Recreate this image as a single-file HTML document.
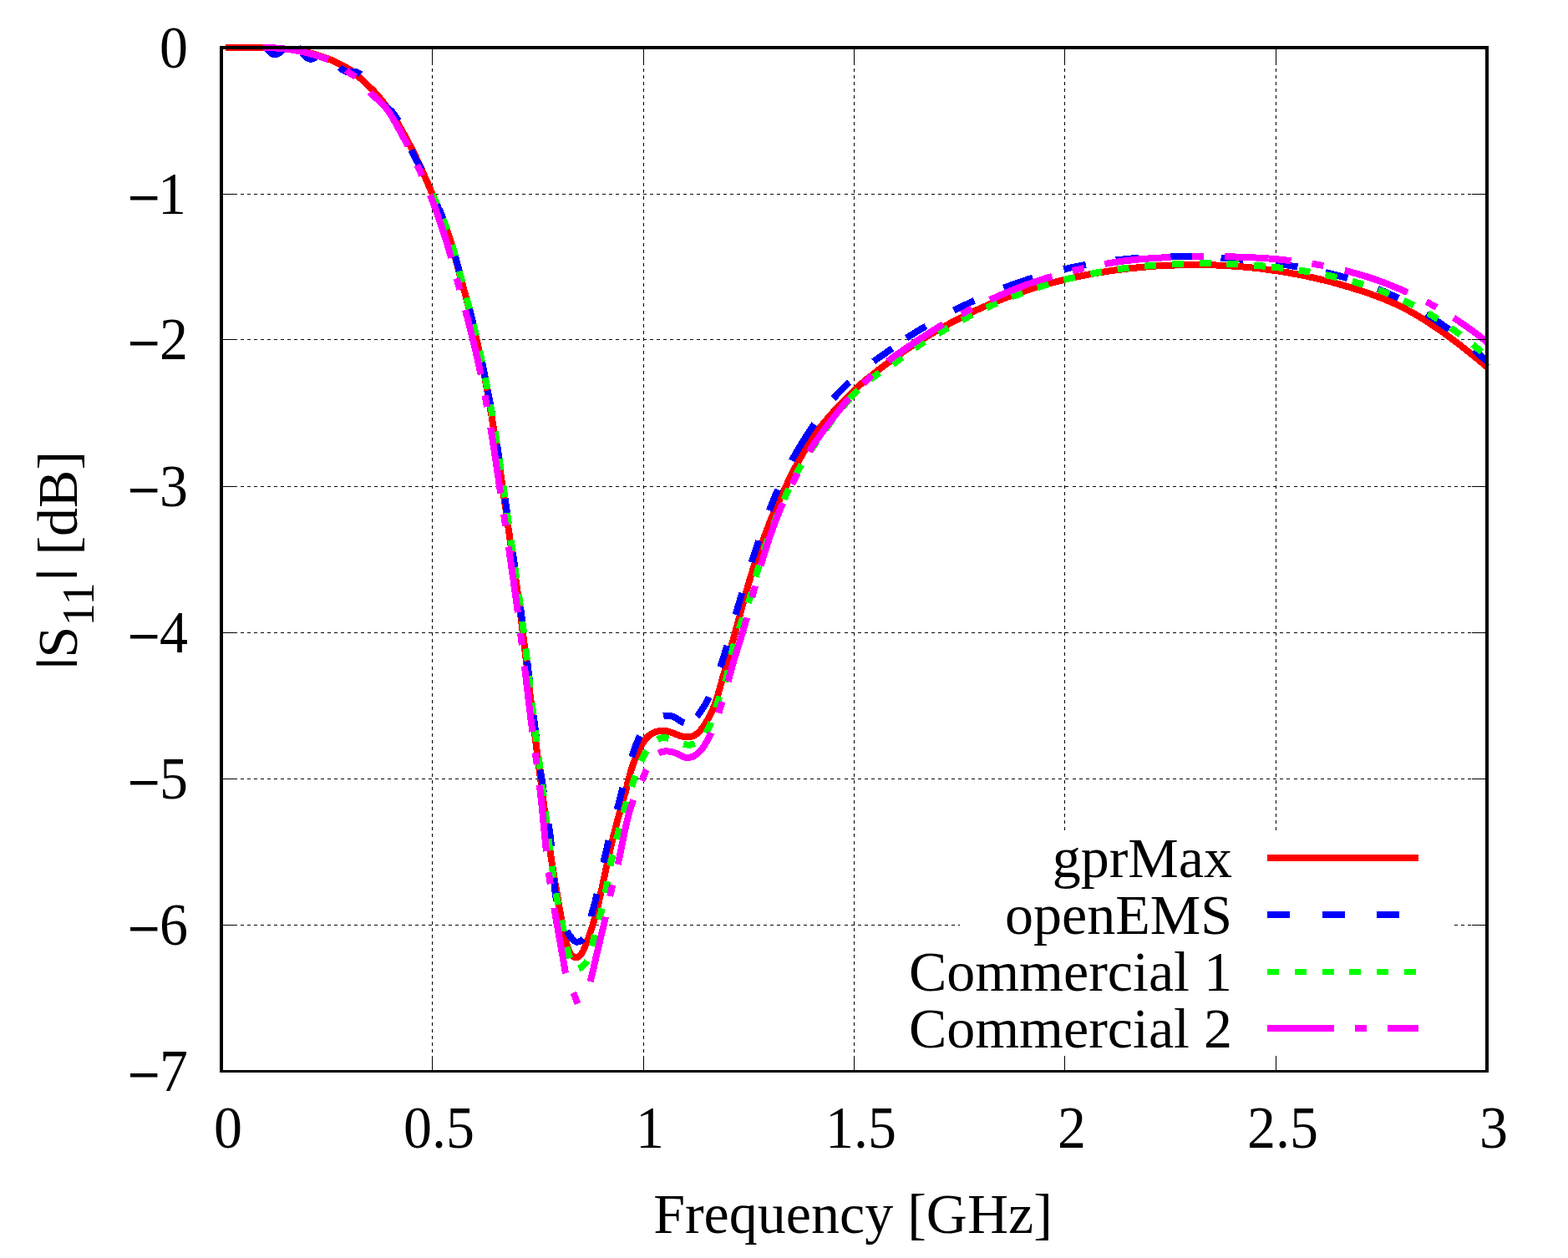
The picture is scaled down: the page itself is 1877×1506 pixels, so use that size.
<!DOCTYPE html>
<html lang="en"><head><meta charset="utf-8"><title>|S11| [dB] vs Frequency [GHz]</title>
<style>html,body{margin:0;padding:0;background:#fff}body{width:1877px;height:1506px;overflow:hidden}svg{display:block}text{font-family:"Liberation Serif","DejaVu Serif",serif;font-size:68px;fill:#000}.c{fill:none;stroke-width:8;stroke-linejoin:round;stroke-linecap:butt}.g{stroke:#000;stroke-width:1;fill:none}.t{stroke:#000;stroke-width:1;fill:none}</style></head><body>
<svg width="1877" height="1506" viewBox="0 0 1877 1506">
<rect x="0" y="0" width="1877" height="1506" fill="#fff"/>
<g shape-rendering="crispEdges">
<path class="g" stroke-dasharray="4 4.038" d="M517.5 1259.7V57.0"/>
<path class="g" stroke-dasharray="4 4.038" d="M770.5 1259.7V57.0"/>
<path class="g" stroke-dasharray="4 4.038" d="M1022.5 1259.7V57.0"/>
<path class="g" stroke-dasharray="4 4.038" d="M1274.5 1259.7V57.0"/>
<path class="g" stroke-dasharray="4 4.038" d="M1527.5 1259.7V57.0"/>
<path class="g" stroke-dasharray="4 4.030" d="M287.8 232.5H1780.0"/>
<path class="g" stroke-dasharray="4 4.030" d="M287.8 406.5H1780.0"/>
<path class="g" stroke-dasharray="4 4.030" d="M287.8 582.5H1780.0"/>
<path class="g" stroke-dasharray="4 4.030" d="M287.8 757.5H1780.0"/>
<path class="g" stroke-dasharray="4 4.030" d="M287.8 932.5H1780.0"/>
<path class="g" stroke-dasharray="4 4.030" d="M287.8 1107.5H1780.0"/>
</g>
<defs><clipPath id="cp"><rect x="259" y="53" width="1527" height="1233.5"/></clipPath></defs>
<g clip-path="url(#cp)" shape-rendering="crispEdges">
<path class="c" stroke="#f00" style="stroke-width:7" shape-rendering="auto" d="M270.0 57.0L272.0 57.0L274.0 57.0L276.0 57.0L278.0 57.0L280.0 57.0L282.0 57.0L284.0 57.0L286.0 57.0L288.0 57.0L290.0 57.0L292.0 57.0L294.0 57.0L296.0 57.0L298.0 57.0L300.0 57.0L302.0 57.0L304.0 57.0L306.0 57.1L308.0 57.1L310.0 57.1L312.0 57.2L314.0 57.2L316.0 57.3L318.0 57.3L320.0 57.4L322.0 57.5L324.0 57.5L326.0 57.6L328.0 57.7L330.0 57.8L332.0 57.9L334.0 58.0L336.0 58.1L338.0 58.2L340.0 58.4L342.0 58.6L344.0 58.8L345.9 59.0L347.9 59.2L349.9 59.4L351.9 59.7L353.9 60.0L355.9 60.3L357.8 60.6L359.8 61.0L361.8 61.3L363.7 61.7L365.7 62.2L367.6 62.6L369.6 63.1L371.5 63.6L373.5 64.1L375.4 64.6L377.3 65.2L379.2 65.7L381.1 66.3L383.0 66.9L384.9 67.6L386.8 68.2L388.7 68.9L390.6 69.6L392.4 70.3L394.3 71.1L396.2 71.8L398.0 72.6L399.8 73.4L401.6 74.3L403.5 75.1L405.3 76.0L407.0 76.9L408.8 77.8L410.6 78.7L412.4 79.7L414.1 80.7L415.9 81.7L417.6 82.7L419.3 83.8L420.9 84.9L422.5 86.1L424.1 87.3L425.7 88.6L427.2 89.9L428.7 91.2L430.1 92.6L431.6 93.9L433.0 95.3L434.5 96.7L435.9 98.1L437.4 99.5L438.8 100.8L440.3 102.2L441.8 103.5L443.2 104.9L444.7 106.3L446.1 107.7L447.5 109.1L448.9 110.6L450.2 112.1L451.5 113.6L452.8 115.1L454.1 116.6L455.4 118.2L456.6 119.8L457.9 121.3L459.1 122.9L460.3 124.5L461.5 126.1L462.7 127.7L463.9 129.3L465.1 131.0L466.2 132.6L467.4 134.2L468.5 135.9L469.6 137.5L470.7 139.2L471.8 140.9L472.9 142.6L474.0 144.2L475.0 145.9L476.1 147.6L477.1 149.3L478.2 151.1L479.2 152.8L480.2 154.5L481.2 156.2L482.2 158.0L483.1 159.7L484.1 161.5L485.1 163.2L486.0 165.0L487.0 166.8L487.9 168.5L488.8 170.3L489.8 172.1L490.7 173.8L491.6 175.6L492.5 177.4L493.4 179.2L494.3 181.0L495.2 182.8L496.1 184.6L497.0 186.3L497.9 188.1L498.7 189.9L499.6 191.8L500.5 193.6L501.3 195.4L502.2 197.2L503.0 199.0L503.8 200.8L504.7 202.6L505.5 204.5L506.3 206.3L507.1 208.1L507.9 209.9L508.7 211.8L509.5 213.6L510.3 215.4L511.1 217.3L511.9 219.1L512.7 220.9L513.5 222.8L514.3 224.6L515.1 226.4L515.9 228.3L516.7 230.1L517.5 232.0L518.3 233.8L519.1 235.6L519.8 237.5L520.6 239.3L521.4 241.2L522.1 243.0L522.9 244.9L523.7 246.7L524.4 248.6L525.2 250.4L525.9 252.3L526.7 254.1L527.4 256.0L528.2 257.8L528.9 259.7L529.7 261.5L530.4 263.4L531.1 265.3L531.8 267.1L532.6 269.0L533.3 270.9L534.0 272.7L534.7 274.6L535.4 276.5L536.1 278.4L536.7 280.3L537.4 282.1L538.0 284.0L538.6 285.9L539.2 287.9L539.8 289.8L540.4 291.7L541.0 293.6L541.5 295.5L542.1 297.4L542.6 299.4L543.1 301.3L543.6 303.2L544.1 305.2L544.7 307.1L545.2 309.0L545.7 311.0L546.2 312.9L546.7 314.8L547.2 316.8L547.7 318.7L548.2 320.6L548.8 322.6L549.3 324.5L549.8 326.4L550.3 328.4L550.9 330.3L551.4 332.2L551.9 334.2L552.5 336.1L553.0 338.0L553.5 339.9L554.0 341.9L554.6 343.8L555.1 345.7L555.6 347.7L556.2 349.6L556.7 351.5L557.2 353.4L557.7 355.4L558.2 357.3L558.8 359.2L559.3 361.2L559.8 363.1L560.3 365.0L560.8 367.0L561.3 368.9L561.8 370.8L562.3 372.8L562.8 374.7L563.3 376.7L563.8 378.6L564.3 380.5L564.7 382.5L565.2 384.4L565.7 386.4L566.2 388.3L566.7 390.2L567.1 392.2L567.6 394.1L568.1 396.1L568.5 398.0L569.0 400.0L569.5 401.9L569.9 403.9L570.4 405.8L570.8 407.8L571.3 409.7L571.7 411.7L572.2 413.6L572.6 415.6L573.1 417.5L573.5 419.5L573.9 421.4L574.4 423.4L574.8 425.3L575.2 427.3L575.7 429.2L576.1 431.2L576.5 433.1L576.9 435.1L577.3 437.1L577.7 439.0L578.1 441.0L578.5 442.9L578.9 444.9L579.3 446.8L579.7 448.8L580.1 450.8L580.5 452.7L580.9 454.7L581.2 456.7L581.6 458.6L582.0 460.6L582.4 462.6L582.7 464.5L583.1 466.5L583.4 468.5L583.8 470.4L584.1 472.4L584.5 474.4L584.8 476.3L585.2 478.3L585.5 480.3L585.8 482.2L586.2 484.2L586.5 486.2L586.8 488.2L587.2 490.1L587.5 492.1L587.8 494.1L588.2 496.1L588.5 498.0L588.8 500.0L589.1 502.0L589.4 504.0L589.8 505.9L590.1 507.9L590.4 509.9L590.7 511.9L591.0 513.8L591.4 515.8L591.7 517.8L592.0 519.8L592.3 521.7L592.6 523.7L592.9 525.7L593.2 527.7L593.5 529.6L593.9 531.6L594.2 533.6L594.5 535.6L594.8 537.5L595.1 539.5L595.4 541.5L595.7 543.5L596.0 545.4L596.3 547.4L596.6 549.4L596.9 551.4L597.2 553.4L597.5 555.3L597.8 557.3L598.1 559.3L598.4 561.3L598.7 563.2L599.0 565.2L599.3 567.2L599.6 569.2L599.9 571.2L600.2 573.1L600.5 575.1L600.7 577.1L601.0 579.1L601.3 581.0L601.6 583.0L601.9 585.0L602.2 587.0L602.5 589.0L602.7 590.9L603.0 592.9L603.3 594.9L603.6 596.9L603.9 598.9L604.2 600.8L604.4 602.8L604.7 604.8L605.0 606.8L605.3 608.8L605.6 610.7L605.8 612.7L606.1 614.7L606.4 616.7L606.7 618.7L606.9 620.6L607.2 622.6L607.5 624.6L607.8 626.6L608.1 628.6L608.3 630.5L608.6 632.5L608.9 634.5L609.2 636.5L609.5 638.5L609.8 640.4L610.1 642.4L610.3 644.4L610.6 646.4L610.9 648.4L611.2 650.3L611.5 652.3L611.8 654.3L612.1 656.3L612.4 658.3L612.6 660.2L612.9 662.2L613.2 664.2L613.5 666.2L613.8 668.2L614.1 670.1L614.4 672.1L614.7 674.1L614.9 676.1L615.2 678.1L615.5 680.0L615.8 682.0L616.1 684.0L616.4 686.0L616.6 688.0L616.9 689.9L617.2 691.9L617.5 693.9L617.7 695.9L618.0 697.9L618.3 699.8L618.6 701.8L618.8 703.8L619.1 705.8L619.4 707.8L619.7 709.7L619.9 711.7L620.2 713.7L620.5 715.7L620.7 717.7L621.0 719.7L621.3 721.6L621.5 723.6L621.8 725.6L622.1 727.6L622.3 729.6L622.6 731.6L622.8 733.5L623.1 735.5L623.4 737.5L623.6 739.5L623.9 741.5L624.1 743.5L624.4 745.4L624.6 747.4L624.9 749.4L625.1 751.4L625.4 753.4L625.6 755.4L625.9 757.3L626.1 759.3L626.4 761.3L626.6 763.3L626.9 765.3L627.1 767.3L627.3 769.3L627.6 771.2L627.8 773.2L628.1 775.2L628.3 777.2L628.5 779.2L628.8 781.2L629.0 783.2L629.2 785.1L629.5 787.1L629.7 789.1L629.9 791.1L630.2 793.1L630.4 795.1L630.6 797.1L630.9 799.0L631.1 801.0L631.3 803.0L631.6 805.0L631.8 807.0L632.0 809.0L632.3 811.0L632.5 813.0L632.7 814.9L632.9 816.9L633.2 818.9L633.4 820.9L633.6 822.9L633.9 824.9L634.1 826.9L634.3 828.8L634.5 830.8L634.8 832.8L635.0 834.8L635.2 836.8L635.5 838.8L635.7 840.8L635.9 842.8L636.1 844.7L636.4 846.7L636.6 848.7L636.8 850.7L637.1 852.7L637.3 854.7L637.5 856.7L637.8 858.6L638.0 860.6L638.2 862.6L638.5 864.6L638.7 866.6L639.0 868.6L639.2 870.6L639.4 872.5L639.7 874.5L639.9 876.5L640.2 878.5L640.4 880.5L640.6 882.5L640.9 884.5L641.1 886.4L641.4 888.4L641.6 890.4L641.9 892.4L642.1 894.4L642.4 896.4L642.6 898.4L642.9 900.3L643.1 902.3L643.4 904.3L643.6 906.3L643.9 908.3L644.2 910.3L644.4 912.2L644.7 914.2L644.9 916.2L645.2 918.2L645.5 920.2L645.7 922.2L646.0 924.1L646.2 926.1L646.5 928.1L646.7 930.1L647.0 932.1L647.3 934.1L647.5 936.0L647.8 938.0L648.0 940.0L648.3 942.0L648.5 944.0L648.8 946.0L649.1 947.9L649.3 949.9L649.6 951.9L649.8 953.9L650.1 955.9L650.3 957.9L650.6 959.8L650.8 961.8L651.1 963.8L651.4 965.8L651.6 967.8L651.9 969.8L652.1 971.8L652.4 973.7L652.6 975.7L652.9 977.7L653.2 979.7L653.4 981.7L653.7 983.7L654.0 985.6L654.2 987.6L654.5 989.6L654.8 991.6L655.0 993.6L655.3 995.5L655.6 997.5L655.8 999.5L656.1 1001.5L656.4 1003.5L656.7 1005.5L656.9 1007.4L657.2 1009.4L657.5 1011.4L657.8 1013.4L658.1 1015.3L658.3 1017.3L658.6 1019.3L658.9 1021.3L659.2 1023.3L659.5 1025.2L659.8 1027.2L660.1 1029.2L660.4 1031.2L660.7 1033.1L661.0 1035.1L661.3 1037.1L661.6 1039.1L661.9 1041.0L662.2 1043.0L662.6 1045.0L662.9 1047.0L663.2 1048.9L663.5 1050.9L663.8 1052.9L664.2 1054.8L664.5 1056.8L664.8 1058.8L665.1 1060.8L665.5 1062.7L665.8 1064.7L666.1 1066.7L666.5 1068.6L666.8 1070.6L667.2 1072.6L667.5 1074.5L667.8 1076.5L668.2 1078.5L668.5 1080.5L668.9 1082.4L669.2 1084.4L669.6 1086.4L669.9 1088.3L670.3 1090.3L670.6 1092.3L671.0 1094.2L671.4 1096.2L671.7 1098.2L672.1 1100.2L672.4 1102.1L672.8 1104.1L673.2 1106.1L673.5 1108.1L673.9 1110.0L674.3 1112.0L674.7 1114.0L675.1 1115.9L675.5 1117.9L675.9 1119.9L676.3 1121.8L676.8 1123.8L677.3 1125.7L677.8 1127.6L678.3 1129.6L678.9 1131.5L679.5 1133.4L680.1 1135.3L680.8 1137.1L681.6 1139.0L682.5 1140.7L683.6 1142.4L685.0 1144.0L686.6 1145.4L688.5 1146.3L690.3 1146.3L692.2 1145.5L693.8 1144.2L695.3 1142.6L696.5 1141.0L697.6 1139.3L698.5 1137.5L699.3 1135.7L700.0 1133.9L700.8 1132.0L701.5 1130.2L702.3 1128.3L703.0 1126.5L703.7 1124.6L704.4 1122.7L705.0 1120.8L705.7 1118.9L706.4 1117.0L707.0 1115.1L707.6 1113.2L708.2 1111.3L708.8 1109.4L709.4 1107.5L710.0 1105.6L710.6 1103.7L711.1 1101.7L711.7 1099.8L712.2 1097.9L712.7 1096.0L713.3 1094.0L713.8 1092.1L714.3 1090.2L714.8 1088.2L715.2 1086.3L715.7 1084.3L716.2 1082.4L716.7 1080.4L717.1 1078.5L717.6 1076.5L718.0 1074.6L718.4 1072.6L718.9 1070.7L719.3 1068.7L719.7 1066.8L720.2 1064.8L720.6 1062.9L721.0 1060.9L721.4 1059.0L721.8 1057.0L722.2 1055.0L722.7 1053.1L723.1 1051.1L723.5 1049.2L723.9 1047.2L724.3 1045.2L724.7 1043.3L725.1 1041.3L725.5 1039.4L726.0 1037.4L726.4 1035.5L726.8 1033.5L727.2 1031.5L727.6 1029.6L728.1 1027.6L728.5 1025.7L728.9 1023.7L729.4 1021.8L729.8 1019.8L730.3 1017.9L730.7 1015.9L731.1 1014.0L731.6 1012.0L732.1 1010.1L732.5 1008.1L733.0 1006.2L733.5 1004.2L733.9 1002.3L734.4 1000.4L734.9 998.4L735.4 996.5L735.9 994.5L736.4 992.6L736.9 990.7L737.4 988.7L737.9 986.8L738.4 984.9L739.0 982.9L739.5 981.0L740.0 979.1L740.6 977.2L741.1 975.2L741.7 973.3L742.2 971.4L742.8 969.5L743.4 967.6L743.9 965.6L744.5 963.7L745.0 961.8L745.6 959.9L746.1 957.9L746.7 956.0L747.2 954.1L747.7 952.2L748.2 950.2L748.7 948.3L749.2 946.4L749.7 944.4L750.2 942.5L750.6 940.5L751.1 938.6L751.6 936.6L752.1 934.7L752.6 932.8L753.1 930.8L753.6 928.9L754.1 927.0L754.7 925.0L755.2 923.1L755.8 921.2L756.4 919.3L757.0 917.4L757.7 915.5L758.3 913.6L759.0 911.7L759.7 909.9L760.5 908.0L761.2 906.1L762.0 904.3L762.8 902.5L763.6 900.6L764.5 898.8L765.3 897.0L766.2 895.2L767.1 893.5L768.1 891.7L769.1 890.0L770.2 888.3L771.4 886.7L772.6 885.1L773.9 883.5L775.3 882.1L776.8 880.8L778.4 879.5L780.1 878.4L781.8 877.5L783.7 876.7L785.6 876.0L787.5 875.4L789.5 875.1L791.5 874.8L793.5 874.8L795.5 874.9L797.5 875.1L799.4 875.5L801.4 876.1L803.3 876.7L805.2 877.4L807.0 878.1L808.9 878.9L810.7 879.6L812.6 880.4L814.5 881.1L816.4 881.6L818.4 882.1L820.4 882.4L822.4 882.5L824.4 882.4L826.4 882.0L828.3 881.5L830.2 880.8L832.0 879.8L833.7 878.7L835.2 877.5L836.7 876.1L838.1 874.7L839.4 873.2L840.7 871.6L841.9 870.0L843.0 868.3L844.1 866.6L845.1 864.9L846.1 863.2L847.1 861.4L848.0 859.7L849.0 857.9L849.9 856.1L850.8 854.3L851.6 852.5L852.5 850.7L853.3 848.9L854.0 847.0L854.8 845.2L855.5 843.3L856.2 841.4L856.8 839.5L857.5 837.6L858.1 835.7L858.7 833.8L859.3 831.9L859.9 830.0L860.4 828.1L861.0 826.2L861.5 824.2L862.1 822.3L862.6 820.4L863.2 818.5L863.7 816.5L864.2 814.6L864.8 812.7L865.3 810.8L865.9 808.8L866.4 806.9L867.0 805.0L867.5 803.1L868.1 801.1L868.6 799.2L869.2 797.3L869.7 795.4L870.2 793.4L870.8 791.5L871.3 789.6L871.8 787.6L872.3 785.7L872.8 783.8L873.3 781.8L873.8 779.9L874.3 778.0L874.8 776.0L875.4 774.1L875.9 772.2L876.4 770.2L877.0 768.3L877.5 766.4L878.0 764.5L878.6 762.5L879.1 760.6L879.6 758.7L880.2 756.8L880.7 754.8L881.2 752.9L881.7 751.0L882.3 749.0L882.8 747.1L883.3 745.2L883.8 743.3L884.4 741.3L884.9 739.4L885.4 737.5L885.9 735.5L886.4 733.6L887.0 731.7L887.5 729.7L888.0 727.8L888.5 725.9L889.0 723.9L889.6 722.0L890.1 720.1L890.6 718.2L891.1 716.2L891.7 714.3L892.2 712.4L892.7 710.4L893.3 708.5L893.8 706.6L894.4 704.7L894.9 702.7L895.5 700.8L896.0 698.9L896.6 697.0L897.2 695.1L897.8 693.2L898.3 691.2L898.9 689.3L899.5 687.4L900.1 685.5L900.7 683.6L901.3 681.7L901.9 679.8L902.6 677.9L903.2 676.0L903.8 674.1L904.4 672.2L905.1 670.3L905.7 668.4L906.3 666.5L907.0 664.6L907.6 662.7L908.3 660.8L909.0 658.9L909.6 657.0L910.3 655.2L911.0 653.3L911.6 651.4L912.3 649.5L913.0 647.6L913.7 645.8L914.4 643.9L915.1 642.0L915.8 640.1L916.5 638.3L917.2 636.4L917.9 634.5L918.6 632.6L919.3 630.8L920.0 628.9L920.8 627.1L921.5 625.2L922.3 623.3L923.0 621.5L923.8 619.6L924.5 617.8L925.3 615.9L926.1 614.1L926.9 612.3L927.7 610.4L928.5 608.6L929.3 606.8L930.1 604.9L930.9 603.1L931.8 601.3L932.6 599.5L933.4 597.7L934.3 595.9L935.1 594.1L936.0 592.2L936.8 590.4L937.7 588.6L938.6 586.8L939.4 585.0L940.3 583.2L941.1 581.4L942.0 579.6L942.8 577.8L943.7 576.0L944.6 574.2L945.4 572.4L946.3 570.6L947.2 568.8L948.1 567.0L949.0 565.2L949.9 563.4L950.8 561.6L951.7 559.9L952.7 558.1L953.6 556.3L954.6 554.6L955.6 552.9L956.6 551.1L957.5 549.4L958.5 547.6L959.5 545.9L960.5 544.2L961.5 542.4L962.5 540.7L963.4 538.9L964.4 537.1L965.4 535.4L966.3 533.6L967.3 531.9L968.3 530.2L969.4 528.5L970.4 526.8L971.5 525.1L972.7 523.5L973.8 521.8L975.0 520.2L976.2 518.6L977.4 517.0L978.7 515.5L979.9 513.9L981.1 512.3L982.4 510.8L983.7 509.2L984.9 507.7L986.2 506.1L987.5 504.6L988.8 503.1L990.1 501.5L991.4 500.0L992.7 498.5L994.0 497.0L995.3 495.5L996.7 494.0L998.0 492.5L999.4 491.1L1000.8 489.6L1002.1 488.2L1003.5 486.8L1004.9 485.3L1006.4 483.9L1007.8 482.5L1009.2 481.1L1010.6 479.7L1012.0 478.2L1013.4 476.8L1014.8 475.4L1016.2 473.9L1017.6 472.5L1018.9 471.0L1020.3 469.6L1021.7 468.2L1023.1 466.7L1024.6 465.3L1026.0 464.0L1027.5 462.6L1029.0 461.3L1030.5 459.9L1032.0 458.6L1033.5 457.3L1035.0 456.1L1036.6 454.8L1038.1 453.5L1039.7 452.3L1041.3 451.0L1042.8 449.8L1044.4 448.5L1046.0 447.3L1047.5 446.1L1049.1 444.8L1050.7 443.6L1052.3 442.4L1053.9 441.2L1055.5 440.0L1057.0 438.7L1058.6 437.5L1060.2 436.3L1061.8 435.1L1063.5 434.0L1065.1 432.8L1066.7 431.6L1068.3 430.4L1069.9 429.2L1071.5 428.1L1073.2 426.9L1074.8 425.7L1076.4 424.6L1078.1 423.4L1079.7 422.3L1081.3 421.1L1083.0 420.0L1084.6 418.9L1086.3 417.7L1087.9 416.6L1089.6 415.5L1091.3 414.4L1092.9 413.3L1094.6 412.2L1096.3 411.1L1098.0 410.0L1099.6 408.9L1101.3 407.9L1103.0 406.8L1104.7 405.7L1106.4 404.7L1108.1 403.7L1109.8 402.6L1111.6 401.6L1113.3 400.6L1115.0 399.5L1116.7 398.5L1118.5 397.5L1120.2 396.5L1121.9 395.5L1123.7 394.6L1125.4 393.6L1127.2 392.6L1128.9 391.6L1130.6 390.6L1132.4 389.7L1134.2 388.7L1135.9 387.8L1137.7 386.8L1139.4 385.9L1141.2 384.9L1143.0 384.0L1144.8 383.1L1146.5 382.2L1148.3 381.3L1150.1 380.4L1151.9 379.5L1153.7 378.6L1155.5 377.7L1157.3 376.8L1159.1 375.9L1160.9 375.1L1162.7 374.2L1164.5 373.3L1166.3 372.5L1168.1 371.6L1169.9 370.8L1171.7 370.0L1173.6 369.1L1175.4 368.3L1177.2 367.5L1179.0 366.7L1180.9 365.9L1182.7 365.1L1184.5 364.3L1186.4 363.5L1188.2 362.8L1190.1 362.0L1191.9 361.2L1193.8 360.5L1195.6 359.7L1197.5 359.0L1199.3 358.3L1201.2 357.5L1203.1 356.8L1204.9 356.1L1206.8 355.4L1208.7 354.7L1210.6 354.0L1212.4 353.3L1214.3 352.6L1216.2 351.9L1218.1 351.3L1220.0 350.6L1221.9 350.0L1223.8 349.3L1225.7 348.7L1227.6 348.0L1229.5 347.4L1231.4 346.8L1233.3 346.2L1235.2 345.6L1237.1 345.0L1239.0 344.4L1240.9 343.8L1242.8 343.2L1244.7 342.6L1246.6 342.1L1248.6 341.5L1250.5 341.0L1252.4 340.4L1254.3 339.9L1256.3 339.4L1258.2 338.8L1260.1 338.3L1262.1 337.8L1264.0 337.3L1265.9 336.8L1267.9 336.3L1269.8 335.9L1271.8 335.4L1273.7 334.9L1275.7 334.4L1277.6 334.0L1279.6 333.5L1281.5 333.1L1283.5 332.7L1285.4 332.2L1287.4 331.8L1289.3 331.4L1291.3 331.0L1293.2 330.6L1295.2 330.2L1297.2 329.8L1299.1 329.4L1301.1 329.0L1303.0 328.6L1305.0 328.3L1307.0 327.9L1308.9 327.5L1310.9 327.2L1312.9 326.8L1314.9 326.5L1316.8 326.2L1318.8 325.9L1320.8 325.6L1322.8 325.2L1324.7 324.9L1326.7 324.6L1328.7 324.4L1330.7 324.1L1332.7 323.8L1334.6 323.5L1336.6 323.3L1338.6 323.0L1340.6 322.7L1342.6 322.5L1344.6 322.2L1346.5 322.0L1348.5 321.8L1350.5 321.5L1352.5 321.3L1354.5 321.1L1356.5 320.9L1358.5 320.7L1360.5 320.5L1362.4 320.3L1364.4 320.1L1366.4 319.9L1368.4 319.7L1370.4 319.6L1372.4 319.4L1374.4 319.2L1376.4 319.1L1378.4 318.9L1380.4 318.8L1382.4 318.7L1384.4 318.5L1386.4 318.4L1388.4 318.3L1390.4 318.2L1392.4 318.1L1394.4 318.0L1396.4 317.9L1398.4 317.8L1400.4 317.7L1402.4 317.6L1404.4 317.5L1406.4 317.5L1408.4 317.4L1410.3 317.4L1412.3 317.3L1414.3 317.3L1416.3 317.2L1418.3 317.2L1420.3 317.2L1422.3 317.1L1424.3 317.1L1426.3 317.1L1428.3 317.1L1430.3 317.1L1432.3 317.1L1434.3 317.1L1436.3 317.1L1438.3 317.1L1440.3 317.1L1442.3 317.1L1444.3 317.2L1446.3 317.2L1448.3 317.3L1450.3 317.3L1452.3 317.4L1454.3 317.4L1456.3 317.5L1458.3 317.6L1460.3 317.7L1462.3 317.8L1464.3 317.9L1466.3 318.0L1468.3 318.1L1470.3 318.2L1472.3 318.3L1474.3 318.5L1476.3 318.6L1478.3 318.7L1480.3 318.9L1482.3 319.0L1484.3 319.2L1486.3 319.3L1488.3 319.5L1490.3 319.7L1492.3 319.8L1494.3 320.0L1496.3 320.2L1498.2 320.4L1500.2 320.6L1502.2 320.8L1504.2 321.1L1506.2 321.3L1508.2 321.5L1510.2 321.8L1512.1 322.0L1514.1 322.3L1516.1 322.6L1518.1 322.8L1520.1 323.1L1522.1 323.4L1524.0 323.7L1526.0 323.9L1528.0 324.2L1530.0 324.5L1531.9 324.8L1533.9 325.2L1535.9 325.5L1537.9 325.8L1539.8 326.1L1541.8 326.4L1543.8 326.8L1545.8 327.1L1547.7 327.5L1549.7 327.8L1551.7 328.2L1553.6 328.6L1555.6 329.0L1557.6 329.4L1559.5 329.7L1561.5 330.1L1563.4 330.6L1565.4 331.0L1567.3 331.4L1569.3 331.8L1571.3 332.2L1573.2 332.7L1575.2 333.1L1577.1 333.6L1579.0 334.0L1581.0 334.5L1582.9 335.0L1584.9 335.5L1586.8 335.9L1588.8 336.4L1590.7 336.9L1592.6 337.4L1594.6 337.9L1596.5 338.5L1598.4 339.0L1600.4 339.5L1602.3 340.0L1604.2 340.6L1606.1 341.1L1608.1 341.7L1610.0 342.2L1611.9 342.8L1613.8 343.4L1615.7 343.9L1617.7 344.5L1619.6 345.1L1621.5 345.7L1623.4 346.3L1625.3 346.9L1627.2 347.5L1629.1 348.1L1631.0 348.7L1632.9 349.4L1634.8 350.0L1636.7 350.6L1638.6 351.3L1640.5 351.9L1642.4 352.6L1644.2 353.3L1646.1 354.0L1648.0 354.7L1649.9 355.4L1651.7 356.1L1653.6 356.8L1655.5 357.5L1657.3 358.3L1659.2 359.0L1661.0 359.8L1662.9 360.6L1664.7 361.4L1666.5 362.2L1668.4 363.0L1670.2 363.8L1672.0 364.7L1673.8 365.5L1675.6 366.4L1677.4 367.3L1679.2 368.2L1681.0 369.1L1682.7 370.0L1684.5 371.0L1686.3 371.9L1688.0 372.9L1689.8 373.8L1691.5 374.8L1693.3 375.8L1695.0 376.8L1696.7 377.8L1698.4 378.9L1700.1 379.9L1701.8 380.9L1703.6 382.0L1705.3 383.0L1706.9 384.1L1708.6 385.2L1710.3 386.3L1712.0 387.4L1713.7 388.4L1715.3 389.6L1717.0 390.7L1718.6 391.8L1720.3 392.9L1721.9 394.1L1723.6 395.2L1725.2 396.4L1726.8 397.5L1728.5 398.7L1730.1 399.8L1731.7 401.0L1733.3 402.2L1734.9 403.4L1736.5 404.6L1738.1 405.8L1739.7 407.0L1741.3 408.2L1742.9 409.4L1744.5 410.6L1746.1 411.9L1747.7 413.1L1749.2 414.3L1750.8 415.5L1752.4 416.8L1754.0 418.0L1755.5 419.3L1757.1 420.5L1758.7 421.8L1760.2 423.0L1761.8 424.3L1763.3 425.5L1764.9 426.8L1766.4 428.0L1768.0 429.3L1769.5 430.6L1771.1 431.9L1772.6 433.1L1774.2 434.4L1775.7 435.7L1777.2 437.0L1778.8 438.2L1780.0 439.3"/>
<path class="c" stroke="#f00" d="M270.0 57.0L272.0 57.0L274.0 57.0L276.0 57.0L278.0 57.0L280.0 57.0L282.0 57.0L284.0 57.0L286.0 57.0L288.0 57.0L290.0 57.0L292.0 57.0L294.0 57.0L296.0 57.0L298.0 57.0L300.0 57.0L302.0 57.0L304.0 57.0L306.0 57.1L308.0 57.1L310.0 57.1L312.0 57.2L314.0 57.2L316.0 57.3L318.0 57.3L320.0 57.4L322.0 57.5L324.0 57.5L326.0 57.6L328.0 57.7L330.0 57.8L332.0 57.9L334.0 58.0L336.0 58.1L338.0 58.2L340.0 58.4L342.0 58.6L344.0 58.8L345.9 59.0L347.9 59.2L349.9 59.4L351.9 59.7L353.9 60.0L355.9 60.3L357.8 60.6L359.8 61.0L361.8 61.3L363.7 61.7L365.7 62.2L367.6 62.6L369.6 63.1L371.5 63.6L373.5 64.1L375.4 64.6L377.3 65.2L379.2 65.7L381.1 66.3L383.0 66.9L384.9 67.6L386.8 68.2L388.7 68.9L390.6 69.6L392.4 70.3L394.3 71.1L396.2 71.8L398.0 72.6L399.8 73.4L401.6 74.3L403.5 75.1L405.3 76.0L407.0 76.9L408.8 77.8L410.6 78.7L412.4 79.7L414.1 80.7L415.9 81.7L417.6 82.7L419.3 83.8L420.9 84.9L422.5 86.1L424.1 87.3L425.7 88.6L427.2 89.9L428.7 91.2L430.1 92.6L431.6 93.9L433.0 95.3L434.5 96.7L435.9 98.1L437.4 99.5L438.8 100.8L440.3 102.2L441.8 103.5L443.2 104.9L444.7 106.3L446.1 107.7L447.5 109.1L448.9 110.6L450.2 112.1L451.5 113.6L452.8 115.1L454.1 116.6L455.4 118.2L456.6 119.8L457.9 121.3L459.1 122.9L460.3 124.5L461.5 126.1L462.7 127.7L463.9 129.3L465.1 131.0L466.2 132.6L467.4 134.2L468.5 135.9L469.6 137.5L470.7 139.2L471.8 140.9L472.9 142.6L474.0 144.2L475.0 145.9L476.1 147.6L477.1 149.3L478.2 151.1L479.2 152.8L480.2 154.5L481.2 156.2L482.2 158.0L483.1 159.7L484.1 161.5L485.1 163.2L486.0 165.0L487.0 166.8L487.9 168.5L488.8 170.3L489.8 172.1L490.7 173.8L491.6 175.6L492.5 177.4L493.4 179.2L494.3 181.0L495.2 182.8L496.1 184.6L497.0 186.3L497.9 188.1L498.7 189.9L499.6 191.8L500.5 193.6L501.3 195.4L502.2 197.2L503.0 199.0L503.8 200.8L504.7 202.6L505.5 204.5L506.3 206.3L507.1 208.1L507.9 209.9L508.7 211.8L509.5 213.6L510.3 215.4L511.1 217.3L511.9 219.1L512.7 220.9L513.5 222.8L514.3 224.6L515.1 226.4L515.9 228.3L516.7 230.1L517.5 232.0L518.3 233.8L519.1 235.6L519.8 237.5L520.6 239.3L521.4 241.2L522.1 243.0L522.9 244.9L523.7 246.7L524.4 248.6L525.2 250.4L525.9 252.3L526.7 254.1L527.4 256.0L528.2 257.8L528.9 259.7L529.7 261.5L530.4 263.4L531.1 265.3L531.8 267.1L532.6 269.0L533.3 270.9L534.0 272.7L534.7 274.6L535.4 276.5L536.1 278.4L536.7 280.3L537.4 282.1L538.0 284.0L538.6 285.9L539.2 287.9L539.8 289.8L540.4 291.7L541.0 293.6L541.5 295.5L542.1 297.4L542.6 299.4L543.1 301.3L543.6 303.2L544.1 305.2L544.7 307.1L545.2 309.0L545.7 311.0L546.2 312.9L546.7 314.8L547.2 316.8L547.7 318.7L548.2 320.6L548.8 322.6L549.3 324.5L549.8 326.4L550.3 328.4L550.9 330.3L551.4 332.2L551.9 334.2L552.5 336.1L553.0 338.0L553.5 339.9L554.0 341.9L554.6 343.8L555.1 345.7L555.6 347.7L556.2 349.6L556.7 351.5L557.2 353.4L557.7 355.4L558.2 357.3L558.8 359.2L559.3 361.2L559.8 363.1L560.3 365.0L560.8 367.0L561.3 368.9L561.8 370.8L562.3 372.8L562.8 374.7L563.3 376.7L563.8 378.6L564.3 380.5L564.7 382.5L565.2 384.4L565.7 386.4L566.2 388.3L566.7 390.2L567.1 392.2L567.6 394.1L568.1 396.1L568.5 398.0L569.0 400.0L569.5 401.9L569.9 403.9L570.4 405.8L570.8 407.8L571.3 409.7L571.7 411.7L572.2 413.6L572.6 415.6L573.1 417.5L573.5 419.5L573.9 421.4L574.4 423.4L574.8 425.3L575.2 427.3L575.7 429.2L576.1 431.2L576.5 433.1L576.9 435.1L577.3 437.1L577.7 439.0L578.1 441.0L578.5 442.9L578.9 444.9L579.3 446.8L579.7 448.8L580.1 450.8L580.5 452.7L580.9 454.7L581.2 456.7L581.6 458.6L582.0 460.6L582.4 462.6L582.7 464.5L583.1 466.5L583.4 468.5L583.8 470.4L584.1 472.4L584.5 474.4L584.8 476.3L585.2 478.3L585.5 480.3L585.8 482.2L586.2 484.2L586.5 486.2L586.8 488.2L587.2 490.1L587.5 492.1L587.8 494.1L588.2 496.1L588.5 498.0L588.8 500.0L589.1 502.0L589.4 504.0L589.8 505.9L590.1 507.9L590.4 509.9L590.7 511.9L591.0 513.8L591.4 515.8L591.7 517.8L592.0 519.8L592.3 521.7L592.6 523.7L592.9 525.7L593.2 527.7L593.5 529.6L593.9 531.6L594.2 533.6L594.5 535.6L594.8 537.5L595.1 539.5L595.4 541.5L595.7 543.5L596.0 545.4L596.3 547.4L596.6 549.4L596.9 551.4L597.2 553.4L597.5 555.3L597.8 557.3L598.1 559.3L598.4 561.3L598.7 563.2L599.0 565.2L599.3 567.2L599.6 569.2L599.9 571.2L600.2 573.1L600.5 575.1L600.7 577.1L601.0 579.1L601.3 581.0L601.6 583.0L601.9 585.0L602.2 587.0L602.5 589.0L602.7 590.9L603.0 592.9L603.3 594.9L603.6 596.9L603.9 598.9L604.2 600.8L604.4 602.8L604.7 604.8L605.0 606.8L605.3 608.8L605.6 610.7L605.8 612.7L606.1 614.7L606.4 616.7L606.7 618.7L606.9 620.6L607.2 622.6L607.5 624.6L607.8 626.6L608.1 628.6L608.3 630.5L608.6 632.5L608.9 634.5L609.2 636.5L609.5 638.5L609.8 640.4L610.1 642.4L610.3 644.4L610.6 646.4L610.9 648.4L611.2 650.3L611.5 652.3L611.8 654.3L612.1 656.3L612.4 658.3L612.6 660.2L612.9 662.2L613.2 664.2L613.5 666.2L613.8 668.2L614.1 670.1L614.4 672.1L614.7 674.1L614.9 676.1L615.2 678.1L615.5 680.0L615.8 682.0L616.1 684.0L616.4 686.0L616.6 688.0L616.9 689.9L617.2 691.9L617.5 693.9L617.7 695.9L618.0 697.9L618.3 699.8L618.6 701.8L618.8 703.8L619.1 705.8L619.4 707.8L619.7 709.7L619.9 711.7L620.2 713.7L620.5 715.7L620.7 717.7L621.0 719.7L621.3 721.6L621.5 723.6L621.8 725.6L622.1 727.6L622.3 729.6L622.6 731.6L622.8 733.5L623.1 735.5L623.4 737.5L623.6 739.5L623.9 741.5L624.1 743.5L624.4 745.4L624.6 747.4L624.9 749.4L625.1 751.4L625.4 753.4L625.6 755.4L625.9 757.3L626.1 759.3L626.4 761.3L626.6 763.3L626.9 765.3L627.1 767.3L627.3 769.3L627.6 771.2L627.8 773.2L628.1 775.2L628.3 777.2L628.5 779.2L628.8 781.2L629.0 783.2L629.2 785.1L629.5 787.1L629.7 789.1L629.9 791.1L630.2 793.1L630.4 795.1L630.6 797.1L630.9 799.0L631.1 801.0L631.3 803.0L631.6 805.0L631.8 807.0L632.0 809.0L632.3 811.0L632.5 813.0L632.7 814.9L632.9 816.9L633.2 818.9L633.4 820.9L633.6 822.9L633.9 824.9L634.1 826.9L634.3 828.8L634.5 830.8L634.8 832.8L635.0 834.8L635.2 836.8L635.5 838.8L635.7 840.8L635.9 842.8L636.1 844.7L636.4 846.7L636.6 848.7L636.8 850.7L637.1 852.7L637.3 854.7L637.5 856.7L637.8 858.6L638.0 860.6L638.2 862.6L638.5 864.6L638.7 866.6L639.0 868.6L639.2 870.6L639.4 872.5L639.7 874.5L639.9 876.5L640.2 878.5L640.4 880.5L640.6 882.5L640.9 884.5L641.1 886.4L641.4 888.4L641.6 890.4L641.9 892.4L642.1 894.4L642.4 896.4L642.6 898.4L642.9 900.3L643.1 902.3L643.4 904.3L643.6 906.3L643.9 908.3L644.2 910.3L644.4 912.2L644.7 914.2L644.9 916.2L645.2 918.2L645.5 920.2L645.7 922.2L646.0 924.1L646.2 926.1L646.5 928.1L646.7 930.1L647.0 932.1L647.3 934.1L647.5 936.0L647.8 938.0L648.0 940.0L648.3 942.0L648.5 944.0L648.8 946.0L649.1 947.9L649.3 949.9L649.6 951.9L649.8 953.9L650.1 955.9L650.3 957.9L650.6 959.8L650.8 961.8L651.1 963.8L651.4 965.8L651.6 967.8L651.9 969.8L652.1 971.8L652.4 973.7L652.6 975.7L652.9 977.7L653.2 979.7L653.4 981.7L653.7 983.7L654.0 985.6L654.2 987.6L654.5 989.6L654.8 991.6L655.0 993.6L655.3 995.5L655.6 997.5L655.8 999.5L656.1 1001.5L656.4 1003.5L656.7 1005.5L656.9 1007.4L657.2 1009.4L657.5 1011.4L657.8 1013.4L658.1 1015.3L658.3 1017.3L658.6 1019.3L658.9 1021.3L659.2 1023.3L659.5 1025.2L659.8 1027.2L660.1 1029.2L660.4 1031.2L660.7 1033.1L661.0 1035.1L661.3 1037.1L661.6 1039.1L661.9 1041.0L662.2 1043.0L662.6 1045.0L662.9 1047.0L663.2 1048.9L663.5 1050.9L663.8 1052.9L664.2 1054.8L664.5 1056.8L664.8 1058.8L665.1 1060.8L665.5 1062.7L665.8 1064.7L666.1 1066.7L666.5 1068.6L666.8 1070.6L667.2 1072.6L667.5 1074.5L667.8 1076.5L668.2 1078.5L668.5 1080.5L668.9 1082.4L669.2 1084.4L669.6 1086.4L669.9 1088.3L670.3 1090.3L670.6 1092.3L671.0 1094.2L671.4 1096.2L671.7 1098.2L672.1 1100.2L672.4 1102.1L672.8 1104.1L673.2 1106.1L673.5 1108.1L673.9 1110.0L674.3 1112.0L674.7 1114.0L675.1 1115.9L675.5 1117.9L675.9 1119.9L676.3 1121.8L676.8 1123.8L677.3 1125.7L677.8 1127.6L678.3 1129.6L678.9 1131.5L679.5 1133.4L680.1 1135.3L680.8 1137.1L681.6 1139.0L682.5 1140.7L683.6 1142.4L685.0 1144.0L686.6 1145.4L688.5 1146.3L690.3 1146.3L692.2 1145.5L693.8 1144.2L695.3 1142.6L696.5 1141.0L697.6 1139.3L698.5 1137.5L699.3 1135.7L700.0 1133.9L700.8 1132.0L701.5 1130.2L702.3 1128.3L703.0 1126.5L703.7 1124.6L704.4 1122.7L705.0 1120.8L705.7 1118.9L706.4 1117.0L707.0 1115.1L707.6 1113.2L708.2 1111.3L708.8 1109.4L709.4 1107.5L710.0 1105.6L710.6 1103.7L711.1 1101.7L711.7 1099.8L712.2 1097.9L712.7 1096.0L713.3 1094.0L713.8 1092.1L714.3 1090.2L714.8 1088.2L715.2 1086.3L715.7 1084.3L716.2 1082.4L716.7 1080.4L717.1 1078.5L717.6 1076.5L718.0 1074.6L718.4 1072.6L718.9 1070.7L719.3 1068.7L719.7 1066.8L720.2 1064.8L720.6 1062.9L721.0 1060.9L721.4 1059.0L721.8 1057.0L722.2 1055.0L722.7 1053.1L723.1 1051.1L723.5 1049.2L723.9 1047.2L724.3 1045.2L724.7 1043.3L725.1 1041.3L725.5 1039.4L726.0 1037.4L726.4 1035.5L726.8 1033.5L727.2 1031.5L727.6 1029.6L728.1 1027.6L728.5 1025.7L728.9 1023.7L729.4 1021.8L729.8 1019.8L730.3 1017.9L730.7 1015.9L731.1 1014.0L731.6 1012.0L732.1 1010.1L732.5 1008.1L733.0 1006.2L733.5 1004.2L733.9 1002.3L734.4 1000.4L734.9 998.4L735.4 996.5L735.9 994.5L736.4 992.6L736.9 990.7L737.4 988.7L737.9 986.8L738.4 984.9L739.0 982.9L739.5 981.0L740.0 979.1L740.6 977.2L741.1 975.2L741.7 973.3L742.2 971.4L742.8 969.5L743.4 967.6L743.9 965.6L744.5 963.7L745.0 961.8L745.6 959.9L746.1 957.9L746.7 956.0L747.2 954.1L747.7 952.2L748.2 950.2L748.7 948.3L749.2 946.4L749.7 944.4L750.2 942.5L750.6 940.5L751.1 938.6L751.6 936.6L752.1 934.7L752.6 932.8L753.1 930.8L753.6 928.9L754.1 927.0L754.7 925.0L755.2 923.1L755.8 921.2L756.4 919.3L757.0 917.4L757.7 915.5L758.3 913.6L759.0 911.7L759.7 909.9L760.5 908.0L761.2 906.1L762.0 904.3L762.8 902.5L763.6 900.6L764.5 898.8L765.3 897.0L766.2 895.2L767.1 893.5L768.1 891.7L769.1 890.0L770.2 888.3L771.4 886.7L772.6 885.1L773.9 883.5L775.3 882.1L776.8 880.8L778.4 879.5L780.1 878.4L781.8 877.5L783.7 876.7L785.6 876.0L787.5 875.4L789.5 875.1L791.5 874.8L793.5 874.8L795.5 874.9L797.5 875.1L799.4 875.5L801.4 876.1L803.3 876.7L805.2 877.4L807.0 878.1L808.9 878.9L810.7 879.6L812.6 880.4L814.5 881.1L816.4 881.6L818.4 882.1L820.4 882.4L822.4 882.5L824.4 882.4L826.4 882.0L828.3 881.5L830.2 880.8L832.0 879.8L833.7 878.7L835.2 877.5L836.7 876.1L838.1 874.7L839.4 873.2L840.7 871.6L841.9 870.0L843.0 868.3L844.1 866.6L845.1 864.9L846.1 863.2L847.1 861.4L848.0 859.7L849.0 857.9L849.9 856.1L850.8 854.3L851.6 852.5L852.5 850.7L853.3 848.9L854.0 847.0L854.8 845.2L855.5 843.3L856.2 841.4L856.8 839.5L857.5 837.6L858.1 835.7L858.7 833.8L859.3 831.9L859.9 830.0L860.4 828.1L861.0 826.2L861.5 824.2L862.1 822.3L862.6 820.4L863.2 818.5L863.7 816.5L864.2 814.6L864.8 812.7L865.3 810.8L865.9 808.8L866.4 806.9L867.0 805.0L867.5 803.1L868.1 801.1L868.6 799.2L869.2 797.3L869.7 795.4L870.2 793.4L870.8 791.5L871.3 789.6L871.8 787.6L872.3 785.7L872.8 783.8L873.3 781.8L873.8 779.9L874.3 778.0L874.8 776.0L875.4 774.1L875.9 772.2L876.4 770.2L877.0 768.3L877.5 766.4L878.0 764.5L878.6 762.5L879.1 760.6L879.6 758.7L880.2 756.8L880.7 754.8L881.2 752.9L881.7 751.0L882.3 749.0L882.8 747.1L883.3 745.2L883.8 743.3L884.4 741.3L884.9 739.4L885.4 737.5L885.9 735.5L886.4 733.6L887.0 731.7L887.5 729.7L888.0 727.8L888.5 725.9L889.0 723.9L889.6 722.0L890.1 720.1L890.6 718.2L891.1 716.2L891.7 714.3L892.2 712.4L892.7 710.4L893.3 708.5L893.8 706.6L894.4 704.7L894.9 702.7L895.5 700.8L896.0 698.9L896.6 697.0L897.2 695.1L897.8 693.2L898.3 691.2L898.9 689.3L899.5 687.4L900.1 685.5L900.7 683.6L901.3 681.7L901.9 679.8L902.6 677.9L903.2 676.0L903.8 674.1L904.4 672.2L905.1 670.3L905.7 668.4L906.3 666.5L907.0 664.6L907.6 662.7L908.3 660.8L909.0 658.9L909.6 657.0L910.3 655.2L911.0 653.3L911.6 651.4L912.3 649.5L913.0 647.6L913.7 645.8L914.4 643.9L915.1 642.0L915.8 640.1L916.5 638.3L917.2 636.4L917.9 634.5L918.6 632.6L919.3 630.8L920.0 628.9L920.8 627.1L921.5 625.2L922.3 623.3L923.0 621.5L923.8 619.6L924.5 617.8L925.3 615.9L926.1 614.1L926.9 612.3L927.7 610.4L928.5 608.6L929.3 606.8L930.1 604.9L930.9 603.1L931.8 601.3L932.6 599.5L933.4 597.7L934.3 595.9L935.1 594.1L936.0 592.2L936.8 590.4L937.7 588.6L938.6 586.8L939.4 585.0L940.3 583.2L941.1 581.4L942.0 579.6L942.8 577.8L943.7 576.0L944.6 574.2L945.4 572.4L946.3 570.6L947.2 568.8L948.1 567.0L949.0 565.2L949.9 563.4L950.8 561.6L951.7 559.9L952.7 558.1L953.6 556.3L954.6 554.6L955.6 552.9L956.6 551.1L957.5 549.4L958.5 547.6L959.5 545.9L960.5 544.2L961.5 542.4L962.5 540.7L963.4 538.9L964.4 537.1L965.4 535.4L966.3 533.6L967.3 531.9L968.3 530.2L969.4 528.5L970.4 526.8L971.5 525.1L972.7 523.5L973.8 521.8L975.0 520.2L976.2 518.6L977.4 517.0L978.7 515.5L979.9 513.9L981.1 512.3L982.4 510.8L983.7 509.2L984.9 507.7L986.2 506.1L987.5 504.6L988.8 503.1L990.1 501.5L991.4 500.0L992.7 498.5L994.0 497.0L995.3 495.5L996.7 494.0L998.0 492.5L999.4 491.1L1000.8 489.6L1002.1 488.2L1003.5 486.8L1004.9 485.3L1006.4 483.9L1007.8 482.5L1009.2 481.1L1010.6 479.7L1012.0 478.2L1013.4 476.8L1014.8 475.4L1016.2 473.9L1017.6 472.5L1018.9 471.0L1020.3 469.6L1021.7 468.2L1023.1 466.7L1024.6 465.3L1026.0 464.0L1027.5 462.6L1029.0 461.3L1030.5 459.9L1032.0 458.6L1033.5 457.3L1035.0 456.1L1036.6 454.8L1038.1 453.5L1039.7 452.3L1041.3 451.0L1042.8 449.8L1044.4 448.5L1046.0 447.3L1047.5 446.1L1049.1 444.8L1050.7 443.6L1052.3 442.4L1053.9 441.2L1055.5 440.0L1057.0 438.7L1058.6 437.5L1060.2 436.3L1061.8 435.1L1063.5 434.0L1065.1 432.8L1066.7 431.6L1068.3 430.4L1069.9 429.2L1071.5 428.1L1073.2 426.9L1074.8 425.7L1076.4 424.6L1078.1 423.4L1079.7 422.3L1081.3 421.1L1083.0 420.0L1084.6 418.9L1086.3 417.7L1087.9 416.6L1089.6 415.5L1091.3 414.4L1092.9 413.3L1094.6 412.2L1096.3 411.1L1098.0 410.0L1099.6 408.9L1101.3 407.9L1103.0 406.8L1104.7 405.7L1106.4 404.7L1108.1 403.7L1109.8 402.6L1111.6 401.6L1113.3 400.6L1115.0 399.5L1116.7 398.5L1118.5 397.5L1120.2 396.5L1121.9 395.5L1123.7 394.6L1125.4 393.6L1127.2 392.6L1128.9 391.6L1130.6 390.6L1132.4 389.7L1134.2 388.7L1135.9 387.8L1137.7 386.8L1139.4 385.9L1141.2 384.9L1143.0 384.0L1144.8 383.1L1146.5 382.2L1148.3 381.3L1150.1 380.4L1151.9 379.5L1153.7 378.6L1155.5 377.7L1157.3 376.8L1159.1 375.9L1160.9 375.1L1162.7 374.2L1164.5 373.3L1166.3 372.5L1168.1 371.6L1169.9 370.8L1171.7 370.0L1173.6 369.1L1175.4 368.3L1177.2 367.5L1179.0 366.7L1180.9 365.9L1182.7 365.1L1184.5 364.3L1186.4 363.5L1188.2 362.8L1190.1 362.0L1191.9 361.2L1193.8 360.5L1195.6 359.7L1197.5 359.0L1199.3 358.3L1201.2 357.5L1203.1 356.8L1204.9 356.1L1206.8 355.4L1208.7 354.7L1210.6 354.0L1212.4 353.3L1214.3 352.6L1216.2 351.9L1218.1 351.3L1220.0 350.6L1221.9 350.0L1223.8 349.3L1225.7 348.7L1227.6 348.0L1229.5 347.4L1231.4 346.8L1233.3 346.2L1235.2 345.6L1237.1 345.0L1239.0 344.4L1240.9 343.8L1242.8 343.2L1244.7 342.6L1246.6 342.1L1248.6 341.5L1250.5 341.0L1252.4 340.4L1254.3 339.9L1256.3 339.4L1258.2 338.8L1260.1 338.3L1262.1 337.8L1264.0 337.3L1265.9 336.8L1267.9 336.3L1269.8 335.9L1271.8 335.4L1273.7 334.9L1275.7 334.4L1277.6 334.0L1279.6 333.5L1281.5 333.1L1283.5 332.7L1285.4 332.2L1287.4 331.8L1289.3 331.4L1291.3 331.0L1293.2 330.6L1295.2 330.2L1297.2 329.8L1299.1 329.4L1301.1 329.0L1303.0 328.6L1305.0 328.3L1307.0 327.9L1308.9 327.5L1310.9 327.2L1312.9 326.8L1314.9 326.5L1316.8 326.2L1318.8 325.9L1320.8 325.6L1322.8 325.2L1324.7 324.9L1326.7 324.6L1328.7 324.4L1330.7 324.1L1332.7 323.8L1334.6 323.5L1336.6 323.3L1338.6 323.0L1340.6 322.7L1342.6 322.5L1344.6 322.2L1346.5 322.0L1348.5 321.8L1350.5 321.5L1352.5 321.3L1354.5 321.1L1356.5 320.9L1358.5 320.7L1360.5 320.5L1362.4 320.3L1364.4 320.1L1366.4 319.9L1368.4 319.7L1370.4 319.6L1372.4 319.4L1374.4 319.2L1376.4 319.1L1378.4 318.9L1380.4 318.8L1382.4 318.7L1384.4 318.5L1386.4 318.4L1388.4 318.3L1390.4 318.2L1392.4 318.1L1394.4 318.0L1396.4 317.9L1398.4 317.8L1400.4 317.7L1402.4 317.6L1404.4 317.5L1406.4 317.5L1408.4 317.4L1410.3 317.4L1412.3 317.3L1414.3 317.3L1416.3 317.2L1418.3 317.2L1420.3 317.2L1422.3 317.1L1424.3 317.1L1426.3 317.1L1428.3 317.1L1430.3 317.1L1432.3 317.1L1434.3 317.1L1436.3 317.1L1438.3 317.1L1440.3 317.1L1442.3 317.1L1444.3 317.2L1446.3 317.2L1448.3 317.3L1450.3 317.3L1452.3 317.4L1454.3 317.4L1456.3 317.5L1458.3 317.6L1460.3 317.7L1462.3 317.8L1464.3 317.9L1466.3 318.0L1468.3 318.1L1470.3 318.2L1472.3 318.3L1474.3 318.5L1476.3 318.6L1478.3 318.7L1480.3 318.9L1482.3 319.0L1484.3 319.2L1486.3 319.3L1488.3 319.5L1490.3 319.7L1492.3 319.8L1494.3 320.0L1496.3 320.2L1498.2 320.4L1500.2 320.6L1502.2 320.8L1504.2 321.1L1506.2 321.3L1508.2 321.5L1510.2 321.8L1512.1 322.0L1514.1 322.3L1516.1 322.6L1518.1 322.8L1520.1 323.1L1522.1 323.4L1524.0 323.7L1526.0 323.9L1528.0 324.2L1530.0 324.5L1531.9 324.8L1533.9 325.2L1535.9 325.5L1537.9 325.8L1539.8 326.1L1541.8 326.4L1543.8 326.8L1545.8 327.1L1547.7 327.5L1549.7 327.8L1551.7 328.2L1553.6 328.6L1555.6 329.0L1557.6 329.4L1559.5 329.7L1561.5 330.1L1563.4 330.6L1565.4 331.0L1567.3 331.4L1569.3 331.8L1571.3 332.2L1573.2 332.7L1575.2 333.1L1577.1 333.6L1579.0 334.0L1581.0 334.5L1582.9 335.0L1584.9 335.5L1586.8 335.9L1588.8 336.4L1590.7 336.9L1592.6 337.4L1594.6 337.9L1596.5 338.5L1598.4 339.0L1600.4 339.5L1602.3 340.0L1604.2 340.6L1606.1 341.1L1608.1 341.7L1610.0 342.2L1611.9 342.8L1613.8 343.4L1615.7 343.9L1617.7 344.5L1619.6 345.1L1621.5 345.7L1623.4 346.3L1625.3 346.9L1627.2 347.5L1629.1 348.1L1631.0 348.7L1632.9 349.4L1634.8 350.0L1636.7 350.6L1638.6 351.3L1640.5 351.9L1642.4 352.6L1644.2 353.3L1646.1 354.0L1648.0 354.7L1649.9 355.4L1651.7 356.1L1653.6 356.8L1655.5 357.5L1657.3 358.3L1659.2 359.0L1661.0 359.8L1662.9 360.6L1664.7 361.4L1666.5 362.2L1668.4 363.0L1670.2 363.8L1672.0 364.7L1673.8 365.5L1675.6 366.4L1677.4 367.3L1679.2 368.2L1681.0 369.1L1682.7 370.0L1684.5 371.0L1686.3 371.9L1688.0 372.9L1689.8 373.8L1691.5 374.8L1693.3 375.8L1695.0 376.8L1696.7 377.8L1698.4 378.9L1700.1 379.9L1701.8 380.9L1703.6 382.0L1705.3 383.0L1706.9 384.1L1708.6 385.2L1710.3 386.3L1712.0 387.4L1713.7 388.4L1715.3 389.6L1717.0 390.7L1718.6 391.8L1720.3 392.9L1721.9 394.1L1723.6 395.2L1725.2 396.4L1726.8 397.5L1728.5 398.7L1730.1 399.8L1731.7 401.0L1733.3 402.2L1734.9 403.4L1736.5 404.6L1738.1 405.8L1739.7 407.0L1741.3 408.2L1742.9 409.4L1744.5 410.6L1746.1 411.9L1747.7 413.1L1749.2 414.3L1750.8 415.5L1752.4 416.8L1754.0 418.0L1755.5 419.3L1757.1 420.5L1758.7 421.8L1760.2 423.0L1761.8 424.3L1763.3 425.5L1764.9 426.8L1766.4 428.0L1768.0 429.3L1769.5 430.6L1771.1 431.9L1772.6 433.1L1774.2 434.4L1775.7 435.7L1777.2 437.0L1778.8 438.2L1780.0 439.3"/>
<path class="c" stroke="#00f" stroke-dasharray="27.2 38.3" d="M318.3 57.0L319.0 57.8L320.0 59.0L321.0 60.2L322.0 61.2L323.0 62.2L324.0 63.1L325.0 63.9L326.0 64.5L327.0 65.0L328.0 65.3L329.0 65.4L330.0 65.3L331.0 65.1L332.0 64.7L333.0 64.2L333.5 63.9"/>
<path class="c" stroke="#00f" stroke-dasharray="27.2 38.3" d="M332.9 64.2L333.0 64.2L334.0 63.5L335.0 62.7L336.0 61.8L337.0 60.8L338.0 59.8L339.0 58.8L340.0 57.7L340.7 57.0"/>
<path class="c" stroke="#00f" stroke-dasharray="27.2 38.3" d="M356.9 57.0L357.0 57.1L358.0 58.3L359.0 59.6L360.0 60.9L361.0 62.2L362.0 63.4L363.0 64.7L364.0 65.8L365.0 66.9L366.0 67.9L367.0 68.7L368.0 69.4L369.0 70.0L370.0 70.4L371.0 70.6L372.0 70.7L373.0 70.6L374.0 70.3L375.0 70.0L376.0 69.5L377.0 68.9L378.0 68.3L379.0 67.6L380.0 66.9L381.0 66.2L382.0 65.5L383.0 64.8L384.0 64.3L385.0 63.8L386.0 63.4L387.0 63.2L388.0 63.1L389.0 63.1L390.0 63.3L391.0 63.6L392.0 64.1L393.0 64.7L394.0 65.4L395.0 66.3L396.0 67.3L397.0 68.4L398.0 69.6L399.0 70.8L400.0 72.1L401.0 73.4L402.0 74.7L403.0 76.1L404.0 77.3L405.0 78.5L406.0 79.7L407.0 80.7L408.0 81.7L409.0 82.6L410.0 83.4L411.0 84.1L412.0 84.7L413.0 85.1L414.0 85.5L415.0 85.8L416.0 86.0L417.0 86.1L418.0 86.1L419.0 86.1L420.0 86.1L421.0 86.0L422.0 86.0L423.0 86.0L424.0 86.0L425.0 86.1L426.0 86.2L427.0 86.5L428.0 86.9L429.0 87.3L430.0 87.9L431.0 88.6L432.0 89.5L433.0 90.4L434.0 91.5L435.0 92.7L436.0 93.9L437.0 95.3L438.0 96.7L439.0 98.2L440.0 99.7L441.0 101.3L442.0 102.9L443.0 104.6L444.0 106.3L445.0 107.9L446.0 109.6L447.0 111.2L448.0 112.8L449.0 114.4L450.0 115.9L451.0 117.3L452.0 118.6L453.0 119.9L454.0 121.1L455.0 122.2L456.0 123.2L457.0 124.1L458.0 125.0L458.8 125.7"/>
<path class="c" stroke="#00f" stroke-dasharray="27.2 38.3" d="M458.3 125.3L459.0 125.8L460.0 126.6L461.0 127.3L462.0 128.0L463.0 128.7L464.0 129.4L465.0 130.1L466.0 130.9L467.0 131.7L468.0 132.6L469.0 133.6L470.0 134.6L471.0 135.8L472.0 137.1L473.0 138.5L474.0 140.0L475.0 141.6L476.0 143.4L477.0 145.3L478.0 147.2L479.0 149.3L480.0 151.5L481.0 153.8L482.0 156.1L483.0 158.5L484.0 160.9L485.0 163.3L486.0 165.7L487.0 168.1L488.0 170.4L489.0 172.7L490.0 174.9L491.0 177.1L492.0 179.2L493.0 181.3L494.0 183.2L495.0 185.2L496.0 187.1L497.0 188.9L498.0 190.8L499.0 192.6L500.0 194.3L501.0 196.1L502.0 197.9L503.0 199.8L504.0 201.6L505.0 203.5L506.0 205.5L507.0 207.5L508.0 209.5L509.0 211.6L510.0 213.7L511.0 215.9L512.0 218.1L513.0 220.4L514.0 222.7L515.0 225.0L516.0 227.4L517.0 229.8L518.0 232.2L519.0 234.7L520.0 237.2L521.0 239.7L522.0 242.2L523.0 244.8L524.0 247.3L525.0 249.9L526.5 252.0L527.2 253.9L527.9 255.7L528.7 257.6L529.4 259.5L530.1 261.3L530.8 263.2L531.5 265.1L532.2 266.9L533.0 268.8L533.7 270.7L534.4 272.5L535.1 274.4L535.8 276.3L536.5 278.2L537.1 280.1L537.8 281.9L538.4 283.8L539.1 285.7L539.7 287.6L540.3 289.5L540.8 291.5L541.4 293.4L542.0 295.3L542.5 297.2L543.0 299.2L543.6 301.1L544.1 303.0L544.6 304.9L545.1 306.9L545.6 308.8L546.1 310.8L546.6 312.7L547.1 314.6L547.6 316.6L548.2 318.5L548.7 320.4L549.2 322.4L549.7 324.3L550.2 326.2L550.8 328.2L551.3 330.1L551.8 332.0L552.4 333.9L552.9 335.9L553.4 337.8L553.9 339.7L554.5 341.7L555.0 343.6L555.5 345.5L556.1 347.4L556.6 349.4L557.1 351.3L557.6 353.2L558.2 355.2L558.7 357.1L559.2 359.0L559.7 361.0L560.2 362.9L560.7 364.8L561.2 366.8L561.7 368.7L562.2 370.6L562.7 372.6L563.2 374.5L563.7 376.4L564.2 378.4L564.7 380.3L565.2 382.3L565.7 384.2L566.2 386.1L566.7 388.1L567.1 390.0L567.6 392.0L568.1 393.9L568.5 395.9L569.0 397.8L569.5 399.7L569.9 401.7L570.4 403.6L570.8 405.6L571.3 407.5L571.7 409.5L572.2 411.4L572.6 413.4L573.1 415.3L573.5 417.3L573.9 419.2L574.4 421.2L574.8 423.1L575.2 425.1L575.6 427.1L576.1 429.0L576.5 431.0L576.9 432.9L577.3 434.9L577.7 436.8L578.1 438.8L578.5 440.8L578.9 442.7L579.3 444.7L579.7 446.6L580.1 448.6L580.5 450.6L580.9 452.5L581.3 454.5L581.7 456.4L582.1 458.4L582.5 460.4L582.8 462.3L583.2 464.3L583.6 466.3L584.0 468.2"/>
<path class="c" stroke="#00f" stroke-dasharray="27.2 38.3" d="M583.8 467.5L584.0 468.2L584.4 470.2L584.7 472.2L585.1 474.1L585.5 476.1L585.8 478.1L586.2 480.0L586.6 482.0L586.9 484.0L587.3 485.9L587.6 487.9L588.0 489.9L588.3 491.8L588.7 493.8L589.0 495.8L589.4 497.7L589.7 499.7L590.1 501.7L590.4 503.6L590.7 505.6L591.1 507.6L591.4 509.6L591.7 511.5L592.0 513.5L592.4 515.5L592.7 517.5L593.0 519.4L593.3 521.4L593.7 523.4L594.0 525.4L594.3 527.3L594.6 529.3L594.9 531.3L595.2 533.3L595.5 535.2L595.8 537.2L596.1 539.2L596.4 541.2L596.7 543.1L597.0 545.1L597.3 547.1L597.6 549.1L597.9 551.1L598.2 553.0L598.5 555.0L598.8 557.0L599.1 559.0L599.4 560.9L599.7 562.9L600.0 564.9L600.3 566.9L600.6 568.9L600.9 570.8L601.1 572.8L601.4 574.8L601.7 576.8L602.0 578.8L602.3 580.7L602.6 582.7L602.8 584.7L603.1 586.7L603.4 588.7L603.7 590.6L604.0 592.6L604.3 594.6L604.5 596.6L604.8 598.6L605.1 600.5L605.4 602.5L605.7 604.5L605.9 606.5L606.2 608.5L606.5 610.4L606.8 612.4L607.1 614.4L607.3 616.4L607.6 618.4L607.9 620.3L608.2 622.3L608.5 624.3L608.7 626.3L609.0 628.3L609.3 630.2L609.6 632.2L609.9 634.2L610.2 636.2L610.4 638.2L610.7 640.1L611.0 642.1L611.3 644.1L611.6 646.1L611.9 648.1L612.2 650.0L612.4 652.0L612.7 654.0L613.0 656.0L613.3 658.0L613.6 659.9L613.9 661.9L614.2 663.9L614.5 665.9L614.7 667.8L615.0 669.8L615.3 671.8L615.6 673.8L615.9 675.8L616.2 677.7L616.5 679.7L616.7 681.7L617.0 683.7L617.3 685.7L617.6 687.6L617.9 689.6L618.2 691.6L618.4 693.6L618.7 695.6L619.0 697.5L619.3 699.5L619.5 701.5L619.8 703.5L620.1 705.5L620.4 707.5L620.6 709.4L620.9 711.4L621.2 713.4L621.5 715.4L621.7 717.4L622.0 719.3L622.3 721.3L622.5 723.3L622.8 725.3L623.1 727.3L623.3 729.3L623.6 731.2L623.9 733.2L624.1 735.2L624.4 737.2L624.6 739.2L624.9 741.2L625.2 743.1L625.4 745.1L625.7 747.1L625.9 749.1L626.2 751.1L626.4 753.1L626.7 755.0L626.9 757.0L627.2 759.0L627.4 761.0L627.7 763.0L627.9 765.0L628.2 766.9L628.4 768.9L628.7 770.9L628.9 772.9L629.1 774.9L629.4 776.9L629.6 778.8L629.9 780.8L630.1 782.8L630.3 784.8L630.6 786.8L630.8 788.8L631.0 790.8L631.3 792.7L631.5 794.7L631.8 796.7L632.0 798.7L632.2 800.7L632.5 802.7L632.7 804.7L632.9 806.6L633.1 808.6L633.4 810.6L633.6 812.6L633.8 814.6L634.1 816.6L634.3 818.6L634.5 820.6L634.8 822.5L635.0 824.5L635.2 826.5L635.5 828.5L635.7 830.5L635.9 832.5L636.1 834.5L636.4 836.4L636.6 838.4L636.8 840.4L637.1 842.4L637.3 844.4L637.5 846.4L637.8 848.4L638.0 850.3L638.2 852.3L638.5 854.3L638.7 856.3L638.9 858.3L639.2 860.3L639.4 862.3L639.6 864.3L639.9 866.2L640.1 868.2L640.4 870.2L640.6 872.2L640.8 874.2L641.1 876.2L641.3 878.2L641.6 880.1L641.8 882.1L642.0 884.1L642.3 886.1L642.5 888.1L642.8 890.1L643.0 892.1L643.3 894.0L643.5 896.0L643.8 898.0L644.0 900.0L644.3 902.0L644.5 904.0L644.8 906.0L645.1 907.9L645.3 909.9L645.6 911.9L645.8 913.9L646.1 915.9L646.4 917.9L646.7 919.8L646.9 921.8L647.2 923.8L647.5 925.8L647.8 927.8L648.1 929.7L648.3 931.7L648.6 933.7L648.9 935.7L649.2 937.6L649.5 939.6L649.8 941.6L650.1 943.5L650.4 945.5L650.7 947.5L651.0 949.5L651.4 951.4L651.7 953.4L652.0 955.4L652.3 957.3L652.6 959.3L652.9 961.3L653.2 963.2L653.5 965.2L653.8 967.2L654.1 969.1L654.4 971.1L654.7 973.1L655.0 975.1L655.3 977.0L655.6 979.0L655.9 981.0L656.2 982.9L656.5 984.9L656.8 986.9L657.1 988.9L657.4 990.9L657.6 992.8L657.9 994.8L658.2 996.8L658.4 998.8L658.7 1000.8L658.9 1002.8L659.2 1004.8L659.4 1006.7L659.6 1008.7L659.9 1010.7L660.1 1012.7L660.3 1014.7L660.5 1016.7L660.7 1018.7L660.9 1020.8L661.1 1022.8L661.2 1024.8L661.4 1026.8L661.6 1028.8L661.7 1030.8L661.9 1032.9L662.0 1034.9L662.1 1036.9L662.3 1039.0L662.4 1041.0L662.5 1043.0L662.6 1045.1L662.8 1047.1L662.9 1049.1L663.1 1051.1L663.2 1053.2L663.4 1055.2L663.5 1057.2L663.7 1059.2L663.9 1061.3L664.1 1063.3L664.3 1065.3L664.5 1067.3L664.7 1069.3L665.0 1071.3L665.3 1073.3L665.6 1075.3L665.9 1077.2L666.2 1079.2L666.6 1081.2L667.0 1083.1L667.4 1085.1L667.8 1087.0L668.3 1088.9L668.8 1090.9L669.4 1092.8L669.9 1094.7L670.5 1096.6L671.2 1098.5L671.8 1100.3L672.6 1102.2L673.3 1104.0L674.1 1105.9L674.9 1107.7L675.8 1109.5L676.7 1111.3L677.7 1113.1L678.7 1114.8L679.7 1116.5L680.7 1118.2L681.8 1119.8L682.9 1121.4L684.2 1123.0L685.6 1124.6L687.1 1126.1L688.8 1127.2L690.7 1127.7L692.6 1127.4L694.5 1126.6L696.3 1125.6L698.0 1124.5L699.3 1123.1L700.4 1121.4L701.2 1119.5L702.0 1117.6L702.7 1115.7L703.4 1113.8L704.1 1112.0L704.7 1110.1L705.2 1108.2L705.7 1106.2L706.1 1104.3L706.5 1102.3L706.9 1100.4L707.3 1098.4L707.7 1096.4L707.9 1095.8"/>
<path class="c" stroke="#00f" stroke-dasharray="27.2 38.3" d="M707.7 1096.5L707.7 1096.4L708.2 1094.5L708.7 1092.5L709.3 1090.6L709.8 1088.7L710.4 1086.8L710.9 1084.9L711.5 1082.9L712.0 1081.0L712.5 1079.1L712.9 1077.1L713.4 1075.2L713.8 1073.2L714.2 1071.3L714.7 1069.3L715.1 1067.4L715.4 1065.4L715.8 1063.4L716.2 1061.5L716.6 1059.5L717.0 1057.5L717.4 1055.6L717.8 1053.6L718.2 1051.6L718.6 1049.7L719.0 1047.7L719.4 1045.8L719.8 1043.8L720.3 1041.9L720.7 1039.9L721.2 1038.0L721.6 1036.0L722.1 1034.1L722.5 1032.1L723.0 1030.2L723.4 1028.2L723.9 1026.3L724.4 1024.3L724.8 1022.4L725.3 1020.4L725.7 1018.5L726.2 1016.5L726.6 1014.6L727.1 1012.6L727.5 1010.7L728.0 1008.8L728.4 1006.8L728.9 1004.9L729.4 1002.9L729.8 1001.0L730.3 999.0L730.8 997.1L731.3 995.1L731.8 993.2L732.3 991.3L732.8 989.3L733.3 987.4L733.8 985.5L734.4 983.6L734.9 981.6L735.5 979.7L736.1 977.8L736.6 975.9L737.2 974.0L737.7 972.0L738.3 970.1L738.9 968.2L739.4 966.3L739.9 964.3L740.5 962.4L741.0 960.5L741.5 958.6L742.0 956.6L742.5 954.7L743.0 952.7L743.4 950.8L743.9 948.8L744.4 946.9L744.8 944.9L745.3 943.0L745.7 941.0L746.2 939.1L746.6 937.1L747.1 935.2L747.6 933.3L748.1 931.3L748.7 929.4L749.2 927.5L749.8 925.6L750.4 923.7L751.0 921.8L751.6 919.9L752.2 918.0L752.9 916.1L753.5 914.2L754.2 912.3L754.8 910.4L755.5 908.5L756.1 906.6L756.8 904.7L757.4 902.8L758.0 900.9L758.7 899.0L759.3 897.1L760.0 895.2L760.7 893.4L761.4 891.5L762.1 889.6L762.9 887.8L763.7 885.9L764.5 884.1L765.4 882.3L766.3 880.5L767.3 878.8L768.3 877.0L769.3 875.3L770.5 873.7L771.6 872.0L772.9 870.5L774.2 868.9L775.5 867.4L776.9 866.0L778.4 864.7L780.0 863.4L781.6 862.2L783.3 861.1L785.0 860.0L786.8 859.1L788.6 858.3L790.5 857.6L792.5 857.1L794.5 856.7L796.5 856.5L798.5 856.5L800.5 856.7L802.5 857.0L804.5 857.6L806.3 858.2L808.2 859.1L809.9 860.1L811.5 861.1L813.2 862.2L814.9 863.3L816.6 864.4L818.4 865.3L820.4 866.1L822.4 866.6L824.4 866.7L826.3 866.4L828.0 865.6L829.5 864.3L830.8 862.8L832.1 861.1L833.4 859.3L834.6 857.5L834.9 857.0"/>
<path class="c" stroke="#00f" stroke-dasharray="27.2 38.3" d="M834.5 857.6L834.6 857.5L835.8 855.8L837.0 854.1L838.2 852.4L839.3 850.7L840.4 849.1L841.5 847.4L842.6 845.8L843.7 844.2L844.7 842.5L845.7 840.9L846.6 839.2L847.5 837.4L848.4 835.7L849.2 833.9L850.0 832.1L850.8 830.3L851.5 828.4L852.2 826.5L852.9 824.6L853.6 822.8L854.3 820.8L855.0 818.9L855.6 817.0L856.3 815.1L857.0 813.2L857.7 811.4L858.4 809.5L859.0 807.6L859.7 805.7L860.4 803.8L861.1 802.0L861.7 800.1L862.4 798.2L863.0 796.3L863.7 794.4L864.3 792.5L864.9 790.6L865.5 788.7L866.1 786.8L866.7 784.9L867.3 783.0L867.9 781.1L868.5 779.1L869.0 777.2L869.6 775.3L870.2 773.4L870.7 771.5L871.3 769.5L871.8 767.6L872.4 765.7L872.9 763.8L873.5 761.8L874.0 759.9L874.5 758.0L875.1 756.1L875.6 754.1L876.2 752.2L876.7 750.3L877.2 748.4L877.8 746.4L878.3 744.5L878.8 742.6L879.4 740.7L879.9 738.7L880.4 736.8L881.0 734.9L881.5 732.9L882.1 731.0L882.6 729.1L883.1 727.2L883.7 725.3L884.2 723.3L884.8 721.4L885.4 719.5L885.9 717.6L886.5 715.7L887.1 713.7L887.6 711.8L888.2 709.9L888.8 708.0L889.4 706.1L890.0 704.2L890.5 702.3L891.1 700.3L891.7 698.4L892.3 696.5L892.9 694.6L893.5 692.7L894.1 690.8L894.7 688.9L895.3 687.0L895.9 685.1L896.5 683.2L897.1 681.3L897.7 679.4L898.4 677.5L899.0 675.6L899.6 673.6L900.2 671.7L900.8 669.8L901.4 667.9L902.0 666.0L902.7 664.1L903.3 662.2L903.9 660.3L904.5 658.4L905.2 656.5L905.8 654.6L906.4 652.7L907.0 650.8L907.7 648.9L908.3 647.0L908.9 645.1L909.6 643.2L910.2 641.3L910.9 639.5L911.5 637.6L912.2 635.7L912.8 633.8L913.5 631.9L914.1 630.0L914.8 628.1L915.5 626.2L916.1 624.3L916.8 622.5L917.5 620.6L918.2 618.7L918.9 616.8L919.5 614.9L920.2 613.1L920.9 611.2L921.7 609.3L922.4 607.5L923.1 605.6L923.8 603.7L924.6 601.9L925.3 600.0L926.0 598.2L926.8 596.3L927.6 594.4L928.3 592.6L929.1 590.7L929.9 588.9L930.7 587.1L931.5 585.2L932.3 583.4L933.1 581.6L933.9 579.7L934.7 577.9L935.5 576.1L936.4 574.3L937.2 572.4L938.1 570.6L938.9 568.8L939.8 567.0L940.7 565.2L941.6 563.4L942.5 561.6L943.4 559.9L944.3 558.1L945.2 556.3L946.1 554.5L947.1 552.8L948.0 551.0L949.0 549.2L949.9 547.5L950.9 545.7L951.9 544.0L952.9 542.3L953.9 540.5L954.9 538.8L955.9 537.1L956.9 535.4L958.0 533.7L959.0 531.9L960.1 530.2L960.3 529.9"/>
<path class="c" stroke="#00f" stroke-dasharray="27.2 38.3" d="M959.9 530.5L960.1 530.2L961.1 528.6L962.2 526.9L963.3 525.2L964.3 523.5L965.4 521.8L966.5 520.1L967.6 518.4L968.7 516.8L969.8 515.1L970.9 513.4L972.0 511.8L973.1 510.1L974.2 508.4L975.4 506.8L976.5 505.1L977.6 503.5L978.8 501.8L979.9 500.2L981.1 498.5L982.2 496.9L983.4 495.3L984.5 493.6L985.7 492.0L986.9 490.4L988.1 488.8L989.3 487.2L990.6 485.7L991.8 484.1L993.1 482.5L994.3 481.0L995.6 479.5L996.9 477.9L998.2 476.4L999.6 475.0L1000.9 473.5L1002.3 472.0L1003.6 470.6L1005.0 469.1L1006.4 467.7L1007.8 466.2L1009.2 464.8L1010.7 463.4L1012.1 462.0L1013.5 460.6L1015.0 459.2L1016.4 457.8L1017.9 456.5L1019.3 455.1L1020.8 453.7L1022.3 452.4L1023.7 451.0L1025.2 449.7L1026.7 448.3L1028.2 447.0L1029.7 445.7L1031.2 444.4L1032.7 443.1L1034.3 441.8L1035.8 440.5L1037.4 439.2L1038.9 438.0L1040.5 436.7L1042.1 435.5L1043.6 434.3L1045.2 433.1L1046.9 431.9L1048.5 430.7L1050.1 429.6L1051.7 428.4L1053.4 427.3L1055.0 426.1L1056.7 425.0L1058.3 423.9L1060.0 422.7L1061.6 421.6L1063.2 420.4L1064.9 419.3L1066.5 418.1L1068.2 417.0L1069.8 415.8L1071.4 414.6L1073.0 413.5L1074.6 412.3L1076.3 411.1L1077.9 410.0L1079.5 408.8L1081.1 407.6L1082.8 406.5L1084.4 405.4L1085.9 404.4"/>
<path class="c" stroke="#00f" stroke-dasharray="27.2 38.3" d="M1085.3 404.8L1086.1 404.2L1087.7 403.1L1089.4 402.0L1091.1 400.9L1092.8 399.9L1094.5 398.8L1096.2 397.8L1097.9 396.7L1099.6 395.7L1101.3 394.7L1103.0 393.6L1104.8 392.6L1106.5 391.6L1108.2 390.6L1109.9 389.6L1111.7 388.6L1113.4 387.6L1115.2 386.6L1116.9 385.6L1118.6 384.6L1120.4 383.6L1122.1 382.7L1123.9 381.7L1125.6 380.7L1127.3 379.7L1129.1 378.7L1130.8 377.8L1132.6 376.8L1134.3 375.8L1136.1 374.9L1137.9 373.9L1139.6 373.0L1141.4 372.1L1143.2 371.1L1144.9 370.2L1146.7 369.3L1148.5 368.4L1150.3 367.5L1152.1 366.6L1153.9 365.7L1155.7 364.8L1157.5 364.0L1159.3 363.1L1161.1 362.2L1162.9 361.4L1164.7 360.5L1166.5 359.7L1168.3 358.9L1170.1 358.0L1172.0 357.2L1173.8 356.4L1175.6 355.6L1177.5 354.8L1179.3 354.0L1181.1 353.2L1183.0 352.4L1184.8 351.6L1186.6 350.8L1188.5 350.0L1190.3 349.3L1192.2 348.5L1194.0 347.7L1195.9 347.0L1197.7 346.3L1199.6 345.5L1201.5 344.8L1203.3 344.1L1205.2 343.3L1207.1 342.6L1208.9 341.9L1210.8 341.2L1211.4 341.0"/>
<path class="c" stroke="#00f" stroke-dasharray="27.2 38.3" d="M1210.7 341.3L1210.8 341.2L1212.7 340.5L1214.6 339.9L1216.4 339.2L1218.3 338.5L1220.2 337.9L1222.1 337.2L1224.0 336.6L1225.9 335.9L1227.8 335.3L1229.7 334.7L1231.6 334.0L1233.5 333.4L1235.4 332.8L1237.3 332.2L1239.2 331.6L1241.1 331.1L1243.1 330.5L1245.0 329.9L1246.9 329.3L1248.8 328.8L1250.7 328.2L1252.7 327.7L1254.6 327.1L1256.5 326.6L1258.5 326.1L1260.4 325.6L1262.3 325.1L1264.3 324.6L1266.2 324.1L1268.1 323.6L1270.1 323.2L1272.0 322.7L1274.0 322.2L1275.9 321.8L1277.9 321.4L1279.8 320.9L1281.8 320.5L1283.7 320.1L1285.7 319.7L1287.7 319.3L1289.6 318.9L1291.6 318.5L1293.5 318.1L1295.5 317.7L1297.5 317.3L1299.4 317.0L1301.4 316.6L1303.4 316.3L1305.3 315.9L1307.3 315.6L1309.3 315.2L1311.3 314.9L1313.2 314.6L1315.2 314.3L1317.2 314.0L1319.2 313.7L1321.1 313.4L1323.1 313.1L1325.1 312.8L1327.1 312.5L1329.1 312.2L1331.0 312.0L1333.0 311.7L1335.0 311.5L1336.8 311.3"/>
<path class="c" stroke="#00f" stroke-dasharray="27.2 38.3" d="M1336.1 311.4L1337.0 311.2L1339.0 311.0L1341.0 310.8L1343.0 310.6L1345.0 310.4L1346.9 310.2L1348.9 310.0L1350.9 309.8L1352.9 309.6L1354.9 309.4L1356.9 309.2L1358.9 309.1L1360.9 308.9L1362.9 308.8L1364.9 308.6L1366.9 308.5L1368.9 308.3L1370.9 308.2L1372.9 308.1L1374.9 308.0L1376.9 307.9L1378.9 307.8L1380.9 307.7L1382.8 307.6L1384.8 307.5L1386.8 307.4L1388.8 307.3L1390.8 307.3L1392.8 307.2L1394.8 307.2L1396.8 307.1L1398.8 307.1L1400.8 307.1L1402.8 307.0L1404.8 307.0L1406.8 307.0L1408.8 307.0L1410.8 307.0L1412.8 307.0L1414.8 307.0L1416.8 307.0L1418.8 307.0L1420.8 307.0L1422.8 307.1L1424.8 307.1L1426.8 307.1L1428.8 307.2L1430.8 307.2L1432.8 307.3L1434.8 307.3L1436.8 307.4L1438.8 307.5L1440.8 307.5L1442.8 307.6L1444.8 307.7L1446.8 307.8L1448.8 307.9L1450.8 308.0L1452.8 308.2L1454.8 308.3L1456.8 308.4L1458.8 308.6L1460.8 308.7L1462.2 308.8"/>
<path class="c" stroke="#00f" stroke-dasharray="27.2 38.3" d="M1461.5 308.7L1462.8 308.8L1464.8 309.0L1466.8 309.1L1468.8 309.3L1470.8 309.4L1472.8 309.6L1474.8 309.7L1476.8 309.9L1478.8 310.1L1480.7 310.2L1482.7 310.4L1484.7 310.6L1486.7 310.8L1488.7 311.0L1490.7 311.2L1492.7 311.4L1494.7 311.6L1496.7 311.8L1498.7 312.0L1500.6 312.3L1502.6 312.5L1504.6 312.7L1506.6 313.0L1508.6 313.2L1510.6 313.4L1512.6 313.7L1514.5 313.9L1516.5 314.2L1518.5 314.4L1520.5 314.7L1522.5 315.0L1524.5 315.2L1526.4 315.5L1528.4 315.8L1530.4 316.0L1532.4 316.3L1534.4 316.6L1536.3 316.9L1538.3 317.2L1540.3 317.4L1542.3 317.7L1544.3 318.0L1546.2 318.4L1548.2 318.7L1550.2 319.0L1552.2 319.3L1554.1 319.7L1556.1 320.0L1558.1 320.3L1560.0 320.7L1562.0 321.0L1564.0 321.4L1565.9 321.8L1567.9 322.2L1569.9 322.5L1571.8 322.9L1573.8 323.3L1575.8 323.7L1577.7 324.1L1579.7 324.5L1581.6 325.0L1583.6 325.4L1585.5 325.9L1587.5 326.3L1587.6 326.3"/>
<path class="c" stroke="#00f" stroke-dasharray="27.2 38.3" d="M1586.9 326.2L1587.5 326.3L1589.4 326.8L1591.4 327.2L1593.3 327.7L1595.2 328.2L1597.2 328.7L1599.1 329.2L1601.1 329.7L1603.0 330.2L1604.9 330.8L1606.8 331.3L1608.8 331.9L1610.7 332.4L1612.6 333.0L1614.5 333.6L1616.4 334.1L1618.3 334.7L1620.2 335.3L1622.2 335.9L1624.1 336.6L1626.0 337.2L1627.8 337.8L1629.7 338.5L1631.6 339.1L1633.5 339.8L1635.4 340.5L1637.3 341.2L1639.1 341.9L1641.0 342.6L1642.9 343.3L1644.7 344.0L1646.6 344.8L1648.5 345.5L1650.3 346.3L1652.1 347.1L1654.0 347.9L1655.8 348.7L1657.7 349.5L1659.5 350.3L1661.3 351.1L1663.1 351.9L1664.9 352.8L1666.7 353.6L1668.6 354.5L1670.4 355.4L1672.2 356.2L1673.9 357.1L1675.7 358.0L1677.5 358.9L1679.3 359.8L1681.1 360.8L1682.8 361.7L1684.6 362.6L1686.4 363.6L1688.1 364.6L1689.9 365.5L1691.6 366.5L1693.3 367.5L1695.1 368.5L1696.8 369.5L1698.5 370.5L1700.3 371.5L1702.0 372.6L1703.7 373.6L1705.4 374.7L1707.1 375.7L1708.8 376.8L1710.5 377.9L1712.1 378.9L1712.9 379.4"/>
<path class="c" stroke="#00f" stroke-dasharray="27.2 38.3" d="M1712.3 379.0L1713.8 380.0L1715.5 381.1L1717.2 382.2L1718.8 383.3L1720.5 384.5L1722.1 385.6L1723.8 386.7L1725.4 387.9L1727.0 389.0L1728.7 390.2L1730.3 391.4L1731.9 392.5L1733.5 393.7L1735.1 394.9L1736.7 396.1L1738.3 397.3L1739.9 398.5L1741.5 399.8L1743.1 401.0L1744.7 402.2L1746.2 403.5L1747.8 404.7L1749.3 406.0L1750.9 407.2L1752.4 408.5L1754.0 409.8L1755.5 411.1L1757.1 412.3L1758.6 413.6L1760.1 414.9L1761.6 416.2L1763.1 417.6L1764.6 418.9L1766.1 420.2L1767.6 421.5L1769.1 422.9L1770.6 424.2L1772.1 425.6L1773.5 426.9L1775.0 428.3L1776.5 429.6L1777.9 431.0L1779.4 432.4L1780.0 433.0"/>
<path class="c" stroke="#0f0" stroke-dasharray="14 18.8" d="M517.5 232.0L518.3 233.8L519.1 235.7L519.9 237.5L520.7 239.3L521.5 241.2L522.3 243.0L523.1 244.8L523.9 246.7L524.7 248.5L525.5 250.3L526.2 252.2L527.0 254.0L527.8 255.9L528.6 257.7L529.3 259.6L530.1 261.4L530.8 263.3L531.6 265.1L532.3 267.0L533.0 268.9L533.8 270.7L534.5 272.6L535.2 274.5L535.9 276.3L536.5 278.2L537.2 280.1L537.8 282.0L538.5 283.9L539.1 285.8L539.7 287.7L540.3 289.6L540.8 291.5L541.4 293.5L542.0 295.4L542.5 297.3L543.0 299.2L543.6 301.2L544.1 303.1L544.6 305.0L545.1 307.0L545.6 308.9L546.1 310.8L546.6 312.8L547.2 314.7L547.7 316.6L548.2 318.6L548.7 320.5L549.2 322.4L549.7 324.4L550.3 326.3L550.8 328.2L551.3 330.2L551.9 332.1L552.4 334.0L552.9 335.9L553.4 337.9L554.0 339.8L554.5 341.7L555.0 343.7L555.6 345.6L556.1 347.5L556.6 349.4L557.1 351.4L557.7 353.3L558.2 355.2L558.7 357.2L559.2 359.1L559.7 361.0L560.2 363.0L560.8 364.9L561.3 366.8L561.8 368.8L562.3 370.7L562.8 372.6L563.3 374.6L563.8 376.5L564.2 378.5L564.7 380.4L565.2 382.3L565.7 384.3L566.2 386.2L566.7 388.2L567.1 390.1L567.6 392.0L568.1 394.0L568.6 395.9L569.0 397.9L569.5 399.8L569.9 401.8L570.4 403.7L570.9 405.7L571.3 407.6L571.8 409.6L572.2 411.5L572.6 413.5L573.1 415.4L573.5 417.4L573.9 419.3L574.4 421.3L574.8 423.2L575.2 425.2L575.7 427.1L576.1 429.1L576.5 431.0L576.9 433.0L577.3 435.0L577.7 436.9L578.1 438.9L578.5 440.8L578.9 442.8L579.3 444.8L579.7 446.7L580.1 448.7L580.5 450.6L580.9 452.6L581.3 454.6L581.7 456.5L582.1 458.5L582.5 460.4L582.9 462.4L583.2 464.4L583.6 466.3L584.0 468.3L584.4 470.3L584.7 472.2L585.1 474.2L585.5 476.2L585.8 478.1L586.2 480.1L586.6 482.1L586.9 484.0L587.3 486.0L587.6 488.0L588.0 489.9L588.3 491.9L588.7 493.9L589.0 495.8L589.4 497.8L589.7 499.8L590.1 501.8L590.4 503.7L590.7 505.7L591.1 507.7L591.4 509.6L591.7 511.6L592.1 513.6L592.4 515.6L592.7 517.5L593.0 519.5L593.3 521.5L593.7 523.5L594.0 525.4L594.3 527.4L594.6 529.4L594.9 531.4L595.2 533.3L595.5 535.3L595.8 537.3L596.1 539.3L596.5 541.2L596.8 543.2L597.1 545.2L597.4 547.2L597.7 549.2L598.0 551.1L598.2 553.1L598.5 555.1L598.8 557.1L599.1 559.0L599.4 561.0L599.7 563.0L600.0 565.0L600.3 567.0L600.6 568.9L600.9 570.9L601.1 572.9L601.4 574.9L601.7 576.9L602.0 578.8L602.3 580.8L602.6 582.8L602.9 584.8L603.1 586.8L603.4 588.7L603.7 590.7L604.0 592.7L604.3 594.7L604.5 596.7L604.8 598.6L605.1 600.6L605.4 602.6L605.7 604.6L605.9 606.6L606.2 608.5L606.5 610.5L606.8 612.5L607.1 614.5L607.3 616.5L607.6 618.4L607.9 620.4L608.2 622.4L608.5 624.4L608.8 626.4L609.0 628.3L609.3 630.3L609.6 632.3L609.9 634.3L610.2 636.3L610.4 638.2L610.7 640.2L611.0 642.2L611.3 644.2L611.6 646.2L611.9 648.1L612.2 650.1L612.5 652.1L612.7 654.1L613.0 656.1L613.3 658.0L613.6 660.0L613.9 662.0L614.2 664.0L614.5 665.9L614.8 667.9L615.0 669.9L615.3 671.9L615.6 673.9L615.9 675.8L616.2 677.8L616.5 679.8L616.8 681.8L617.0 683.8L617.3 685.7L617.6 687.7L617.9 689.7L618.2 691.7L618.5 693.7L618.7 695.6L619.0 697.6L619.3 699.6L619.6 701.6L619.8 703.6L620.1 705.5L620.4 707.5L620.7 709.5L620.9 711.5L621.2 713.5L621.5 715.5L621.8 717.4L622.0 719.4L622.3 721.4L622.6 723.4L622.8 725.4L623.1 727.3L623.4 729.3L623.6 731.3L623.9 733.3L624.2 735.3L624.4 737.3L624.7 739.2L624.9 741.2L625.2 743.2L625.4 745.2L625.7 747.2L626.0 749.2L626.2 751.1L626.5 753.1L626.7 755.1L627.0 757.1L627.2 759.1L627.4 761.1L627.7 763.1L627.9 765.0L628.2 767.0L628.4 769.0L628.6 771.0L628.9 773.0L629.1 775.0L629.4 777.0L629.6 778.9L629.8 780.9L630.1 782.9L630.3 784.9L630.5 786.9L630.7 788.9L631.0 790.9L631.2 792.8L631.4 794.8L631.7 796.8L631.9 798.8L632.1 800.8L632.3 802.8L632.6 804.8L632.8 806.8L633.0 808.7L633.2 810.7L633.5 812.7L633.7 814.7L633.9 816.7L634.1 818.7L634.4 820.7L634.6 822.7L634.8 824.6L635.0 826.6L635.3 828.6L635.5 830.6L635.7 832.6L635.9 834.6L636.2 836.6L636.4 838.6L636.6 840.5L636.8 842.5L637.1 844.5L637.3 846.5L637.5 848.5L637.8 850.5L638.0 852.5L638.2 854.4L638.5 856.4L638.7 858.4L638.9 860.4L639.2 862.4L639.4 864.4L639.6 866.4L639.9 868.4L640.1 870.3L640.4 872.3L640.6 874.3L640.8 876.3L641.1 878.3L641.3 880.3L641.6 882.2L641.8 884.2L642.1 886.2L642.3 888.2L642.6 890.2L642.8 892.2L643.1 894.2L643.3 896.1L643.6 898.1L643.9 900.1L644.1 902.1L644.4 904.1L644.7 906.1L644.9 908.0L645.2 910.0L645.5 912.0L645.7 914.0L646.0 916.0L646.2 917.9L646.5 919.9L646.8 921.9L647.0 923.9L647.3 925.9L647.6 927.9L647.8 929.8L648.1 931.8L648.3 933.8L648.6 935.8L648.8 937.8L649.1 939.8L649.3 941.7L649.6 943.7L649.8 945.7L650.0 947.7L650.3 949.7L650.5 951.7L650.8 953.6L651.0 955.6L651.2 957.6L651.5 959.6L651.7 961.6L651.9 963.6L652.1 965.6L652.4 967.5L652.6 969.5L652.8 971.5L653.1 973.5L653.3 975.5L653.5 977.5L653.7 979.5L654.0 981.5L654.2 983.4L654.4 985.4L654.6 987.4L654.9 989.4L655.1 991.4L655.3 993.4L655.5 995.4L655.8 997.3L656.0 999.3L656.2 1001.3L656.5 1003.3L656.7 1005.3L656.9 1007.3L657.2 1009.3L657.4 1011.2L657.6 1013.2L657.9 1015.2L658.1 1017.2L658.4 1019.2L658.6 1021.2L658.9 1023.2L659.1 1025.2L659.4 1027.1L659.6 1029.1L659.9 1031.1L660.1 1033.1L660.4 1035.1L660.7 1037.1L660.9 1039.1L661.2 1041.0L661.5 1043.0L661.7 1045.0L662.0 1047.0L662.3 1049.0L662.6 1051.0L662.9 1052.9L663.2 1054.9L663.5 1056.9L663.8 1058.9L664.1 1060.9L664.4 1062.8L664.7 1064.8L665.1 1066.8L665.4 1068.7L665.8 1070.7L666.1 1072.7L666.5 1074.6L666.9 1076.6L667.3 1078.5L667.7 1080.5L668.1 1082.4L668.5 1084.4L668.9 1086.3L669.4 1088.3L669.8 1090.2L670.2 1092.2L670.6 1094.1L671.1 1096.1L671.5 1098.0L671.9 1100.0L672.3 1102.0L672.7 1103.9L673.1 1105.9L673.5 1107.9L673.9 1109.9L674.3 1111.9L674.7 1113.9L675.0 1115.9L675.4 1117.9L675.8 1119.9L676.2 1121.9L676.5 1123.9L676.9 1125.8L677.3 1127.8L677.7 1129.8L678.1 1131.7L678.5 1133.6L679.0 1135.5L679.4 1137.4L679.9 1139.3L680.4 1141.1L680.9 1142.9L681.4 1144.8L682.0 1146.6L682.6 1148.5L683.3 1150.4L684.0 1152.4L684.8 1154.4L685.6 1156.5L686.6 1158.4L688.0 1159.8L689.7 1160.1L691.8 1159.7L693.8 1159.0L695.6 1158.0L697.2 1156.9L698.6 1155.7L700.0 1154.3L701.2 1152.8L702.3 1151.2L703.2 1149.6L704.1 1147.8L704.9 1146.0L705.7 1144.1L706.3 1142.1L706.9 1140.1L707.5 1138.1L708.0 1136.0L708.5 1134.0L709.0 1131.9L709.4 1129.8L709.9 1127.7L710.3 1125.7L710.8 1123.6L711.3 1121.6L711.8 1119.7L712.3 1117.7L712.9 1115.7L713.4 1113.8L713.9 1111.9L714.5 1110.0L715.0 1108.1L715.6 1106.2L716.1 1104.3L716.7 1102.4L717.2 1100.5L717.7 1098.6L718.2 1096.7L718.8 1094.8L719.3 1092.9L719.8 1091.0L720.2 1089.1L720.7 1087.1L721.2 1085.2L721.6 1083.3L722.1 1081.3L722.5 1079.4L722.9 1077.4L723.3 1075.4L723.7 1073.5L724.1 1071.5L724.5 1069.5L724.9 1067.5L725.3 1065.6L725.7 1063.6L726.0 1061.6L726.4 1059.6L726.7 1057.7L727.1 1055.7L727.4 1053.7L727.8 1051.7L728.1 1049.8L728.5 1047.8L728.8 1045.8L729.2 1043.9L729.5 1041.9L729.9 1039.9L730.3 1038.0L730.6 1036.0L731.0 1034.1L731.4 1032.1L731.8 1030.1L732.3 1028.2L732.7 1026.2L733.1 1024.3L733.6 1022.4L734.1 1020.4L734.5 1018.5L735.0 1016.5L735.5 1014.6L736.0 1012.6L736.5 1010.7L737.0 1008.8L737.5 1006.8L738.0 1004.9L738.5 1003.0L739.1 1001.0L739.6 999.1L740.1 997.2L740.6 995.2L741.1 993.3L741.7 991.4L742.2 989.4L742.7 987.5L743.2 985.6L743.8 983.7L744.3 981.7L744.8 979.8L745.4 977.9L745.9 975.9L746.4 974.0L747.0 972.1L747.5 970.2L748.0 968.2L748.6 966.3L749.1 964.4L749.7 962.5L750.3 960.6L750.8 958.6L751.4 956.7L752.0 954.8L752.5 952.9L753.1 951.0L753.7 949.1L754.3 947.2L754.9 945.3L755.5 943.3L756.1 941.4L756.8 939.5L757.4 937.6L758.0 935.7L758.7 933.8L759.3 931.9L760.0 930.0L760.7 928.2L761.3 926.3L762.1 924.4L762.8 922.5L763.5 920.7L764.2 918.8L765.0 916.9L765.8 915.1L766.6 913.3L767.4 911.4L768.3 909.6L769.1 907.8L770.0 906.1L770.9 904.3L771.9 902.5L772.8 900.8L773.9 899.1L774.9 897.4L776.1 895.8L777.3 894.2L778.6 892.6L779.9 891.1L781.4 889.6L783.0 888.2L784.6 886.9L786.3 885.8L788.1 884.8L789.9 884.0L791.8 883.5L793.7 883.2L795.7 883.2L797.6 883.4L799.6 883.8L801.6 884.3L803.6 885.0L805.6 885.7L807.5 886.5L809.4 887.4L811.3 888.2L813.2 889.0L815.0 889.7L816.9 890.4L818.8 891.0L820.7 891.4L822.6 891.6L824.6 891.7L826.6 891.5L828.6 891.2L830.5 890.6L832.4 889.9L834.3 889.0L836.0 888.0L837.7 886.8L839.2 885.5L840.6 884.1L841.9 882.5L843.1 880.9L844.3 879.2L845.3 877.5L846.3 875.7L847.2 873.9L848.1 872.0L848.9 870.2L849.7 868.3L850.5 866.4L851.2 864.6L851.9 862.7L852.5 860.8L853.2 858.9L853.8 857.0L854.4 855.1L855.0 853.2L855.6 851.3L856.2 849.4L856.8 847.5L857.4 845.6L858.0 843.7L858.7 841.8L859.3 840.0L860.0 838.1L860.7 836.2L861.4 834.3L862.1 832.5L862.8 830.6L863.6 828.7L864.3 826.8L865.0 825.0L865.7 823.1L866.3 821.2L867.0 819.3L867.6 817.4L868.3 815.5L868.8 813.6L869.4 811.7L869.9 809.8L870.4 807.8L870.9 805.9L871.4 803.9L871.8 802.0L872.2 800.0L872.6 798.1L873.0 796.1L873.4 794.2L873.8 792.2L874.2 790.2L874.6 788.3L875.0 786.3L875.4 784.3L875.9 782.4L876.3 780.4L876.8 778.5L877.3 776.6L877.8 774.6L878.3 772.7L878.8 770.8L879.4 768.9L880.0 767.0L880.6 765.0L881.2 763.1L881.8 761.2L882.4 759.3L883.1 757.4L883.7 755.6L884.4 753.7L885.0 751.8L885.7 749.9L886.4 748.0L887.1 746.1L887.7 744.2L888.4 742.4L889.1 740.5L889.8 738.6L890.5 736.7L891.2 734.8L891.8 732.9L892.5 731.0L893.2 729.2L893.8 727.3L894.5 725.4L895.1 723.5L895.7 721.6L896.4 719.7L897.0 717.8L897.6 715.9L898.1 713.9L898.7 712.0L899.3 710.1L899.8 708.2L900.4 706.3L900.9 704.3L901.5 702.4L902.0 700.5L902.5 698.6L903.1 696.6L903.6 694.7L904.1 692.8L904.6 690.8L905.2 688.9L905.7 687.0L906.3 685.1L906.8 683.1L907.4 681.2L908.0 679.3L908.5 677.4L909.1 675.5L909.7 673.6L910.3 671.7L910.9 669.8L911.5 667.9L912.2 666.0L912.8 664.1L913.4 662.2L914.0 660.3L914.7 658.4L915.3 656.5L916.0 654.6L916.7 652.7L917.3 650.8L918.0 648.9L918.7 647.0L919.4 645.2L920.1 643.3L920.8 641.4L921.5 639.5L922.2 637.7L922.9 635.8L923.6 633.9L924.3 632.1L925.0 630.2L925.8 628.3L926.5 626.5L927.3 624.6L928.0 622.7L928.8 620.9L929.5 619.0L930.3 617.2L931.1 615.3L931.8 613.5L932.6 611.6L933.4 609.8L934.2 608.0L935.0 606.1L935.8 604.3L936.6 602.4L937.4 600.6L938.2 598.8L939.0 596.9L939.8 595.1L940.6 593.3L941.4 591.5L942.3 589.6L943.1 587.8L943.9 586.0L944.8 584.2L945.6 582.4L946.5 580.5L947.4 578.7L948.2 576.9L949.1 575.2L950.0 573.4L950.9 571.6L951.9 569.8L952.8 568.0L953.7 566.3L954.7 564.5L955.7 562.8L956.7 561.1L957.7 559.3L958.7 557.6L959.7 555.9L960.8 554.2L961.8 552.5L962.9 550.8L964.0 549.1L965.1 547.4L966.2 545.8L967.3 544.1L968.4 542.4L969.5 540.8L970.6 539.1L971.7 537.4L972.8 535.8L973.9 534.1L975.1 532.5L976.2 530.8L977.3 529.1L978.4 527.5L979.6 525.8L980.7 524.2L981.8 522.6L983.0 520.9L984.1 519.3L985.3 517.7L986.5 516.0L987.7 514.4L988.8 512.8L990.0 511.2L991.2 509.6L992.4 508.0L993.7 506.4L994.9 504.8L996.1 503.3L997.3 501.7L998.6 500.1L999.8 498.5L1001.1 497.0L1002.3 495.4L1003.6 493.9L1004.8 492.3L1006.1 490.7L1007.3 489.2L1008.6 487.6L1009.8 486.1L1011.1 484.5L1012.3 482.9L1013.6 481.4L1014.9 479.9L1016.2 478.3L1017.5 476.8L1018.1 476.2"/>
<path class="c" stroke="#0f0" stroke-dasharray="14 18.8" d="M1017.6 476.7L1018.8 475.3L1020.2 473.8L1021.5 472.4L1022.9 470.9L1024.3 469.5L1025.7 468.1L1027.1 466.7L1028.6 465.3L1030.1 464.0L1031.6 462.6L1033.1 461.3L1034.6 460.0L1036.1 458.7L1037.7 457.5L1039.2 456.2L1040.8 455.0L1042.4 453.8L1044.0 452.6L1045.6 451.4L1047.3 450.2L1048.9 449.1L1050.6 447.9L1052.2 446.8L1053.9 445.7L1055.6 444.6L1057.2 443.5L1058.9 442.4L1060.6 441.3L1062.3 440.2L1063.9 439.1L1065.6 438.0L1067.3 436.9L1068.9 435.8L1070.6 434.7L1072.2 433.5L1073.9 432.4L1075.5 431.2L1077.1 430.0L1078.7 428.8L1080.3 427.6L1081.9 426.4L1083.4 425.2L1085.0 423.9L1086.6 422.7L1088.2 421.5L1089.8 420.3L1091.4 419.2L1093.1 418.0L1094.7 416.9L1096.4 415.8L1098.0 414.7L1099.7 413.6L1101.4 412.5L1103.1 411.4L1104.8 410.4L1106.5 409.3L1108.2 408.3L1109.9 407.2L1111.6 406.2L1113.4 405.2L1115.1 404.2L1116.8 403.1L1118.5 402.1L1120.2 401.1L1121.9 400.0L1123.7 399.0L1125.4 398.0L1127.1 397.0L1128.8 396.0L1130.6 394.9L1132.3 393.9L1134.0 392.9L1135.7 391.9L1137.5 390.9L1139.2 389.9L1141.0 389.0L1142.7 388.0L1144.4 387.0L1146.2 386.1L1148.0 385.1L1149.7 384.2L1151.5 383.2L1153.2 382.3L1155.0 381.3L1156.8 380.4L1158.6 379.5L1160.3 378.6L1162.1 377.7L1163.9 376.8L1165.7 375.9L1167.5 375.0L1169.3 374.1L1171.1 373.2L1172.9 372.3L1174.7 371.4L1176.5 370.6L1178.3 369.7L1180.1 368.8L1181.9 368.0L1183.7 367.1L1185.5 366.3L1187.3 365.5L1189.2 364.7L1191.0 363.9L1192.8 363.1L1194.7 362.3L1196.5 361.5L1198.3 360.7L1200.2 359.9L1202.0 359.2L1203.9 358.4L1205.7 357.6L1207.6 356.9L1209.5 356.2L1211.3 355.4L1213.2 354.7L1215.0 354.0L1216.9 353.3L1218.8 352.6L1220.7 351.9L1222.5 351.2L1224.4 350.5L1226.3 349.8L1228.2 349.1L1230.1 348.4L1231.9 347.8L1233.8 347.1L1235.7 346.4L1237.6 345.8L1239.5 345.2L1241.4 344.5L1243.3 343.9L1245.2 343.3L1247.1 342.7L1249.0 342.1L1250.9 341.5L1252.8 340.9L1254.8 340.3L1256.7 339.8L1258.6 339.2L1260.5 338.7L1262.4 338.1L1264.4 337.6L1266.3 337.0L1268.2 336.5L1270.2 336.0L1272.1 335.5L1274.0 335.0L1276.0 334.5L1277.9 334.0L1279.8 333.5L1281.8 333.0L1283.7 332.6L1285.7 332.1L1287.6 331.6L1289.6 331.2L1291.5 330.8L1293.5 330.3L1295.4 329.9L1297.4 329.5L1299.3 329.1L1301.3 328.7L1303.3 328.3L1305.2 327.9L1307.2 327.5L1309.2 327.1L1311.1 326.7L1313.1 326.4L1315.1 326.0L1317.0 325.6L1319.0 325.3L1321.0 324.9L1322.9 324.6L1324.9 324.3L1326.9 324.0L1328.9 323.6L1330.8 323.3L1332.8 323.0L1334.8 322.7L1336.8 322.5L1338.7 322.2L1340.7 321.9L1342.7 321.6L1344.7 321.4L1346.7 321.1L1348.7 320.9L1350.6 320.6L1352.6 320.4L1354.6 320.2L1356.6 320.0L1358.6 319.7L1360.6 319.5L1362.6 319.3L1364.6 319.1L1366.6 319.0L1368.6 318.8L1370.5 318.6L1372.5 318.4L1374.5 318.2L1376.5 318.1L1378.5 317.9L1380.5 317.8L1382.5 317.6L1384.5 317.5L1386.5 317.3L1388.5 317.2L1390.5 317.1L1392.5 316.9L1394.5 316.8L1396.5 316.7L1398.5 316.6L1400.5 316.5L1402.5 316.4L1404.5 316.3L1406.5 316.2L1408.5 316.1L1410.5 316.1L1412.5 316.0L1414.5 315.9L1416.5 315.9L1418.5 315.8L1420.5 315.7L1422.5 315.7L1424.5 315.6L1426.5 315.6L1428.5 315.5L1430.5 315.5L1432.5 315.5L1434.5 315.4L1436.5 315.4L1438.5 315.4L1440.5 315.4L1442.5 315.4L1444.5 315.4L1446.5 315.4L1448.5 315.4L1450.5 315.5L1452.5 315.5L1454.5 315.5L1456.5 315.6L1458.5 315.6L1460.5 315.7L1462.5 315.7L1464.5 315.8L1466.4 315.8L1468.4 315.9L1470.4 316.0L1472.4 316.1L1474.4 316.1L1476.4 316.2L1478.4 316.3L1480.4 316.4L1482.4 316.5L1484.4 316.6L1486.4 316.7L1488.4 316.8L1490.4 316.9L1492.4 317.0L1494.4 317.2L1496.4 317.3L1498.4 317.4L1500.4 317.6L1502.4 317.7L1504.4 317.9L1506.4 318.1L1508.4 318.2L1510.4 318.4L1512.4 318.6L1514.4 318.7L1516.3 318.9L1518.3 319.1L1520.3 319.3L1522.3 319.5L1522.7 319.5"/>
<path class="c" stroke="#0f0" stroke-dasharray="14 18.8" d="M1522.0 319.5L1522.3 319.5L1524.3 319.7L1526.3 319.9L1528.3 320.1L1530.3 320.4L1532.3 320.6L1534.3 320.8L1536.2 321.0L1538.2 321.3L1540.2 321.5L1542.2 321.8L1544.2 322.0L1546.2 322.3L1548.1 322.6L1550.1 322.8L1552.1 323.1L1554.1 323.4L1556.1 323.7L1558.0 324.0L1560.0 324.3L1562.0 324.6L1564.0 324.9L1565.9 325.3L1567.9 325.6L1569.9 325.9L1571.9 326.3L1573.8 326.6L1575.8 327.0L1577.8 327.3L1579.7 327.7L1581.7 328.1L1583.6 328.5L1585.6 328.9L1587.6 329.3L1589.5 329.7L1591.5 330.1L1593.4 330.5L1595.4 331.0L1597.3 331.4L1599.3 331.9L1601.2 332.3L1603.2 332.8L1605.1 333.3L1607.1 333.7L1609.0 334.2L1610.9 334.7L1612.9 335.2L1614.8 335.7L1616.7 336.3L1618.7 336.8L1620.6 337.3L1622.5 337.9L1624.4 338.5L1626.4 339.0L1628.3 339.6L1630.2 340.2L1632.1 340.8L1634.0 341.4L1635.9 342.0L1637.8 342.7L1639.7 343.3L1641.6 343.9L1643.5 344.6L1645.4 345.3L1647.2 346.0L1649.1 346.6L1651.0 347.3L1652.9 348.0L1654.7 348.8L1656.6 349.5L1658.5 350.2L1660.3 351.0L1662.2 351.7L1664.0 352.5L1665.9 353.3L1667.7 354.0L1669.5 354.8L1671.4 355.6L1673.2 356.4L1675.0 357.3L1676.8 358.1L1678.7 358.9L1680.5 359.8L1682.3 360.6L1684.1 361.5L1685.9 362.4L1687.7 363.2L1689.5 364.1L1691.3 365.0L1693.0 366.0L1694.8 366.9L1696.6 367.8L1698.3 368.8L1700.1 369.7L1701.9 370.7L1703.6 371.6L1705.3 372.6L1707.1 373.6L1708.8 374.6L1710.5 375.6L1712.3 376.7L1714.0 377.7L1715.7 378.7L1717.4 379.8L1719.1 380.8L1720.8 381.9L1722.5 383.0L1724.2 384.0L1725.8 385.1L1727.5 386.2L1729.2 387.3L1730.8 388.4L1732.5 389.6L1734.1 390.7L1735.8 391.8L1737.4 393.0L1739.1 394.1L1740.7 395.3L1742.3 396.5L1743.9 397.6L1745.5 398.8L1747.2 400.0L1748.8 401.2L1750.3 402.4L1751.9 403.6L1753.5 404.9L1755.1 406.1L1756.7 407.3L1758.2 408.6L1759.8 409.8L1761.3 411.1L1762.9 412.4L1764.4 413.6L1766.0 414.9L1767.5 416.2L1769.0 417.5L1770.5 418.8L1772.1 420.1L1773.6 421.4L1775.1 422.7L1776.6 424.1L1778.1 425.4L1779.6 426.7L1780.0 427.1"/>
<path class="c" stroke="#f0f" stroke-dasharray="79.6 25.2 14.1 25.2" d="M315.0 57.0L317.0 57.0L319.0 57.0L321.0 57.1L323.0 57.1L325.0 57.2L327.0 57.3L329.0 57.4L331.0 57.6L333.0 57.7L335.0 57.9L337.0 58.1L339.0 58.3L340.9 58.5L342.9 58.7L344.9 59.0L346.9 59.3L348.9 59.6L350.8 59.9L352.8 60.2L354.8 60.6L356.8 60.9L358.7 61.3L360.7 61.7L362.6 62.2L364.6 62.6L366.5 63.1L368.5 63.5L370.4 64.0L372.3 64.6L374.3 65.1L376.2 65.6L378.1 66.2L380.0 66.8L381.9 67.4L383.8 68.0L385.7 68.7L387.6 69.3L389.5 70.0L391.4 70.7L393.2 71.4L395.1 72.1L397.0 72.9L398.9 73.7L400.7 74.5L402.5 75.4L404.3 76.3L406.0 77.3L407.7 78.3L409.3 79.5L410.9 80.7L412.4 82.1L413.9 83.4L415.4 84.8L416.9 86.1L418.4 87.4L420.0 88.5L421.8 89.6L423.5 90.5L425.3 91.5L427.0 92.5L428.6 93.6L430.2 94.8L431.6 96.2L432.9 97.6L434.2 99.2L435.5 100.8L436.7 102.4L437.9 104.0L439.1 105.7L440.3 107.3L441.5 108.9L442.8 110.5L444.2 111.9L445.6 113.4L447.1 114.8L448.5 116.1L450.0 117.4L451.6 118.8L453.1 120.1L454.5 121.4L456.0 122.8L457.4 124.1L458.8 125.6L460.2 127.0L461.4 128.5L462.7 130.1L463.9 131.7L465.0 133.3L466.2 135.0L467.3 136.7L468.3 138.4L469.4 140.1L470.4 141.8L471.4 143.6L472.4 145.3L473.4 147.1L474.4 148.9L475.3 150.6L476.3 152.4L477.3 154.2L478.3 155.9L479.2 157.7L480.2 159.4L481.1 161.2L482.1 162.9L483.0 164.7L484.0 166.5L484.9 168.2L485.9 170.0L486.8 171.7L487.7 173.5L488.6 175.3L489.5 177.1L490.5 178.8L491.4 180.6L492.3 182.4L493.1 184.2L494.0 186.0L494.9 187.8L495.8 189.6L496.6 191.4L497.5 193.2L498.4 195.0L499.2 196.8L500.0 198.6L500.9 200.5L501.7 202.3L502.5 204.1L503.3 205.9L504.1 207.8L504.9 209.6L505.7 211.5L506.5 213.3L507.3 215.1L508.0 217.0L508.8 218.8L509.6 220.7L510.4 222.5L511.1 224.3L511.9 226.2L512.7 228.0L513.5 229.9L514.3 231.7L515.0 233.6L515.8 235.4L516.5 237.3L517.2 239.1L518.0 241.0L518.7 242.9L519.4 244.8L520.0 246.6L520.7 248.5L521.4 250.4L522.1 252.3L522.7 254.2L523.4 256.1L524.0 258.0L524.7 259.8L525.3 261.7L526.0 263.6L526.6 265.5L527.3 267.4L527.9 269.3L528.6 271.2L529.2 273.1L529.9 275.0L530.5 276.9L531.1 278.8L531.7 280.7L532.3 282.6L533.0 284.5L533.6 286.4L534.1 288.3L534.7 290.2L535.3 292.1L535.9 294.1L536.4 296.0L537.0 297.9L537.5 299.8L538.1 301.7L538.6 303.7L539.1 305.6L539.7 307.5L540.2 309.5L540.7 311.4L541.3 313.3L541.8 315.2L542.3 317.2L542.8 319.1L543.4 321.0L543.9 323.0L544.4 324.9L545.0 326.8L545.5 328.8L546.0 330.7L546.5 332.6L547.1 334.5L547.6 336.5L548.1 338.4L548.6 340.3L549.2 342.3L549.7 344.2L550.2 346.1L550.7 348.1L551.3 350.0L551.8 351.9L552.3 353.8L552.8 355.8L553.4 357.7L553.9 359.6L554.4 361.6L554.9 363.5L555.4 365.4L556.0 367.4L556.5 369.3L557.0 371.2L557.5 373.2L558.0 375.1L558.5 377.0L559.0 379.0L559.5 380.9L560.1 382.8L560.6 384.8L561.1 386.7L561.6 388.6L562.1 390.6L562.6 392.5L563.0 394.4L563.5 396.4L564.0 398.3L564.5 400.3L565.0 402.2L565.5 404.1L565.9 406.1L566.4 408.0L566.9 410.0L567.4 411.9L567.8 413.9L568.3 415.8L568.7 417.8L569.2 419.7L569.7 421.7L570.1 423.6L570.5 425.6L571.0 427.5L571.4 429.5L571.9 431.4L572.3 433.4L572.7 435.3L573.2 437.3L573.6 439.2L574.0 441.2L574.4 443.1L574.8 445.1L575.3 447.0L575.7 449.0L576.1 451.0L576.5 452.9L576.9 454.9L577.3 456.8L577.7 458.8L578.1 460.8L578.4 462.7L578.8 464.7L579.2 466.7L579.6 468.6L580.0 470.6L580.3 472.5L580.7 474.5L581.1 476.5L581.4 478.4L581.8 480.4L582.2 482.4L582.5 484.3L582.9 486.3L583.2 488.3L583.6 490.3L583.9 492.2L584.3 494.2L584.6 496.2L585.0 498.1L585.3 500.1L585.6 502.1L586.0 504.1L586.3 506.0L586.6 508.0L586.9 510.0L587.3 511.9L587.6 513.9L587.9 515.9L588.2 517.9L588.5 519.8L588.9 521.8L589.2 523.8L589.5 525.8L589.8 527.7L590.1 529.7L590.4 531.7L590.7 533.7L591.0 535.6L591.3 537.6L591.6 539.6L591.9 541.6L592.2 543.6L592.5 545.5L592.8 547.5L593.1 549.5L593.4 551.5L593.7 553.4L594.0 555.4L594.3 557.4L594.6 559.4L594.9 561.4L595.2 563.3L595.5 565.3L595.8 567.3L596.1 569.3L596.4 571.3L596.6 573.2L596.9 575.2L597.2 577.2L597.5 579.2L597.8 581.1L598.1 583.1L598.4 585.1L598.7 587.1L599.0 589.1L599.3 591.0L599.6 593.0L599.9 595.0L600.2 597.0L600.5 598.9L600.8 600.9L601.1 602.9L601.4 604.9L601.7 606.8L602.0 608.8L602.3 610.8L602.6 612.8L602.9 614.8L603.2 616.7L603.5 618.7L603.8 620.7L604.1 622.7L604.4 624.6L604.7 626.6L605.0 628.6L605.3 630.6L605.6 632.6L605.9 634.5L606.2 636.5L606.5 638.5L606.8 640.5L607.1 642.4L607.4 644.4L607.7 646.4L607.9 648.4L608.2 650.4L608.5 652.3L608.8 654.3L609.1 656.3L609.4 658.3L609.7 660.3L610.0 662.2L610.2 664.2L610.5 666.2L610.8 668.2L611.1 670.2L611.4 672.1L611.7 674.1L611.9 676.1L612.2 678.1L612.5 680.1L612.8 682.0L613.1 684.0L613.3 686.0L613.6 688.0L613.9 690.0L614.2 691.9L614.5 693.9L614.7 695.9L615.0 697.9L615.3 699.9L615.6 701.8L615.8 703.8L616.1 705.8L616.4 707.8L616.7 709.8L616.9 711.7L617.2 713.7L617.5 715.7L617.8 717.7L618.0 719.7L618.3 721.7L618.6 723.6L618.8 725.6L619.1 727.6L619.4 729.6L619.6 731.6L619.9 733.6L620.2 735.5L620.4 737.5L620.7 739.5L620.9 741.5L621.2 743.5L621.5 745.4L621.7 747.4L622.0 749.4L622.2 751.4L622.5 753.4L622.7 755.4L623.0 757.4L623.2 759.3L623.5 761.3L623.7 763.3L624.0 765.3L624.2 767.3L624.5 769.3L624.7 771.2L625.0 773.2L625.2 775.2L625.4 777.2L625.7 779.2L625.9 781.2L626.2 783.2L626.4 785.1L626.6 787.1L626.9 789.1L627.1 791.1L627.4 793.1L627.6 795.1L627.8 797.1L628.1 799.0L628.3 801.0L628.5 803.0L628.8 805.0L629.0 807.0L629.2 809.0L629.5 811.0L629.7 812.9L629.9 814.9L630.2 816.9L630.4 818.9L630.7 820.9L630.9 822.9L631.1 824.9L631.4 826.8L631.6 828.8L631.8 830.8L632.1 832.8L632.3 834.8L632.5 836.8L632.8 838.8L633.0 840.8L633.3 842.7L633.5 844.7L633.7 846.7L634.0 848.7L634.2 850.7L634.5 852.7L634.7 854.6L634.9 856.6L635.2 858.6L635.4 860.6L635.7 862.6L635.9 864.6L636.2 866.6L636.4 868.5L636.7 870.5L636.9 872.5L637.2 874.5L637.4 876.5L637.7 878.5L638.0 880.4L638.2 882.4L638.5 884.4L638.7 886.4L639.0 888.4L639.3 890.4L639.5 892.3L639.8 894.3L640.1 896.3L640.3 898.3L640.6 900.3L640.9 902.2L641.2 904.2L641.4 906.2L641.7 908.2L642.0 910.2L642.3 912.2L642.5 914.1L642.8 916.1L643.1 918.1L643.3 920.1L643.6 922.1L643.9 924.0L644.1 926.0L644.4 928.0L644.6 930.0L644.9 932.0L645.1 934.0L645.4 935.9L645.6 937.9L645.9 939.9L646.1 941.9L646.3 943.9L646.6 945.9L646.8 947.9L647.0 949.9L647.2 951.8L647.4 953.8L647.6 955.8L647.9 957.8L648.1 959.8L648.3 961.8L648.5 963.8L648.7 965.8L648.9 967.8L649.1 969.8L649.3 971.7L649.5 973.7L649.7 975.7L649.9 977.7L650.1 979.7L650.2 981.7L650.4 983.7L650.6 985.7L650.8 987.7L651.0 989.7L651.2 991.7L651.4 993.6L651.6 995.6L651.8 997.6L652.0 999.6L652.2 1001.6L652.4 1003.6L652.6 1005.6L652.8 1007.6L653.0 1009.6L653.2 1011.6L653.4 1013.5L653.6 1015.5L653.8 1017.5L654.0 1019.5L654.2 1021.5L654.4 1023.5L654.7 1025.5L654.9 1027.5L655.1 1029.5L655.3 1031.4L655.6 1033.4L655.8 1035.4L656.0 1037.4L656.3 1039.4L656.5 1041.4L656.8 1043.4L657.0 1045.3L657.3 1047.3L657.5 1049.3L657.8 1051.3L658.1 1053.3L658.4 1055.2L658.6 1057.2L658.9 1059.2L659.2 1061.2L659.5 1063.2L659.8 1065.1L660.1 1067.1L660.4 1069.1L660.7 1071.1L661.0 1073.0L661.4 1075.0L661.7 1077.0L662.0 1078.8"/>
<path class="c" stroke="#f0f" stroke-dasharray="79.6 25.2 14.1 25.2" d="M663.3 1086.7L663.3 1086.9L663.7 1088.8L664.0 1090.8L664.3 1092.8L664.7 1094.7L665.0 1096.7L665.4 1098.7L665.7 1100.7L666.1 1102.6L666.4 1104.6L666.8 1106.6L667.1 1108.5L667.5 1110.5L667.8 1112.5L668.2 1114.4L668.5 1116.4L668.9 1118.4L669.2 1120.3L669.5 1122.3L669.9 1124.3L670.2 1126.3L670.6 1128.2L670.9 1130.2L671.3 1132.2L671.6 1134.1L672.0 1136.1L672.3 1138.1L672.7 1140.0L673.0 1142.0L673.3 1144.0L673.7 1146.0L674.0 1147.9L674.4 1149.9L674.7 1151.9L675.0 1153.8L675.4 1155.8L675.7 1157.8L676.1 1159.8L676.4 1161.7L676.7 1163.7L676.9 1164.7L677.6 1166.6L678.2 1168.5L678.9 1170.3L679.6 1172.2L680.3 1174.1L681.1 1176.0L681.8 1177.8L682.6 1179.6L683.4 1181.5L684.2 1183.3L685.0 1185.1L685.8 1187.0L686.6 1188.8L687.3 1190.7L688.0 1192.5L688.8 1194.4L689.5 1196.3L690.2 1198.2L690.9 1200.0L691.6 1201.9L691.7 1202.3L693.7 1203.3L695.5 1204.0L697.0 1203.8L698.2 1202.7L699.1 1201.0L699.7 1198.8L700.3 1196.4L700.8 1193.9L701.3 1191.4L701.9 1189.2L702.4 1187.1"/>
<path class="c" stroke="#f0f" stroke-dasharray="79.6 25.2 14.1 25.2" d="M706.6 1175.1L707.1 1173.2L707.6 1171.2L708.0 1169.3L708.5 1167.3L709.0 1165.4L709.5 1163.4L709.9 1161.5L710.4 1159.6L710.9 1157.6L711.3 1155.7L711.8 1153.7L712.2 1151.8L712.7 1149.8L713.1 1147.9L713.5 1145.9L714.0 1144.0L714.4 1142.0L714.9 1140.1L715.3 1138.1L715.8 1136.2L716.3 1134.2L716.7 1132.3L717.2 1130.3L717.7 1128.4L718.1 1126.4L718.6 1124.5L719.1 1122.6L719.6 1120.6L720.0 1118.7L720.5 1116.7L721.0 1114.8L721.4 1112.8L721.9 1110.9L722.4 1109.0L722.8 1107.0L723.3 1105.1L723.7 1103.1L724.2 1101.2L724.6 1099.2L725.0 1097.3L725.5 1095.3L725.9 1093.3L726.3 1091.4L726.7 1089.4L727.1 1087.5L727.5 1085.5L727.9 1083.5L728.3 1081.6L728.7 1079.6L729.1 1077.7L729.6 1075.7L730.0 1073.8L730.4 1071.8L730.9 1069.9L731.3 1067.9L731.8 1066.0L732.2 1064.0L732.7 1062.1L733.2 1060.1L733.7 1058.2L734.2 1056.3L734.7 1054.3L735.2 1052.4L735.7 1050.5L736.2 1048.5L736.7 1046.6L737.2 1044.7L737.7 1042.7L738.2 1040.8L738.7 1038.8L739.2 1036.9L739.6 1035.0L740.1 1033.0L740.5 1031.0L741.0 1029.1L741.4 1027.1L741.8 1025.2L742.2 1023.2L742.6 1021.2L743.0 1019.3L743.4 1017.3L743.8 1015.3L744.2 1013.4L744.6 1011.4L745.0 1009.4L745.4 1007.5L745.8 1005.5L746.2 1003.5L746.6 1001.6L746.9 999.6L747.3 997.6L747.8 995.7L748.2 993.7L748.6 991.7L749.0 989.8L749.5 987.8L749.9 985.9L750.4 983.9L750.8 982.0L751.3 980.1L751.8 978.1L752.3 976.2L752.8 974.3L753.4 972.3L753.9 970.4L754.5 968.5L755.1 966.6L755.7 964.7L756.4 962.8L757.0 961.0L757.7 959.1L758.4 957.2L759.1 955.4L759.9 953.5L760.6 951.6L761.4 949.8L762.2 948.0L763.0 946.1L763.8 944.3L764.6 942.5L765.4 940.6L766.2 938.8L767.0 937.0L767.8 935.1L768.7 933.3L769.5 931.5L770.3 929.7L771.1 927.8L771.9 926.0L772.7 924.2L773.5 922.3L774.3 920.5L775.1 918.7L776.0 916.9L776.9 915.1L777.9 913.4L778.9 911.6L780.0 909.9L781.2 908.3L782.5 906.7L783.9 905.2L785.4 903.8L786.9 902.6L788.6 901.5L790.5 900.7L792.4 900.1L794.3 899.7L796.3 899.4L798.4 899.4L800.3 899.5L802.3 899.7L804.3 900.1L806.2 900.7L808.2 901.4L810.1 902.2L812.0 903.1L813.8 904.0L815.7 904.9L817.6 905.7L819.4 906.4L821.3 906.9L823.2 907.1L825.1 907.0L827.0 906.5L828.9 905.9L830.8 904.9L832.6 903.8L834.3 902.6L835.8 901.3L837.3 899.8L838.7 898.4L840.0 896.9L841.2 895.3L842.3 893.7L843.5 892.0L844.5 890.3L845.5 888.6L846.5 886.9L847.5 885.1L848.4 883.3L849.3 881.5L850.2 879.7L851.0 877.9L851.8 876.1L852.6 874.2L853.4 872.4L854.2 870.5L854.9 868.7L855.6 866.8L856.3 864.9L857.0 863.1L857.7 861.2L858.4 859.3L859.0 857.4L859.7 855.5L860.3 853.6L860.9 851.7L861.5 849.8L862.1 847.9L862.7 846.0L863.3 844.1L863.9 842.2L864.5 840.2L865.0 838.3L865.6 836.4L866.2 834.5L866.7 832.6L867.3 830.6L867.8 828.7L868.4 826.8L869.0 824.9L869.5 823.0L870.0 821.0L870.6 819.1L871.1 817.2L871.7 815.3L872.2 813.3L872.7 811.4L873.3 809.5L873.8 807.6L874.4 805.6L874.9 803.7L875.4 801.8L876.0 799.8L876.5 797.9L877.1 796.0L877.6 794.1L878.2 792.2L878.7 790.2L879.3 788.3L879.9 786.4L880.5 784.5L881.0 782.6L881.6 780.7L882.2 778.8L882.8 776.8L883.4 774.9L884.0 773.0L884.6 771.1L885.2 769.2L885.8 767.3L886.4 765.4L887.0 763.5L887.6 761.6L888.2 759.7L888.8 757.8L889.3 755.8L889.9 753.9L890.5 752.0L891.0 750.1L891.6 748.2L892.1 746.2L892.6 744.3L893.2 742.4L893.7 740.4L894.2 738.5L894.7 736.6L895.3 734.6L895.8 732.7L896.3 730.8L896.8 728.8L897.3 726.9L897.8 725.0L898.3 723.0L898.8 721.1L899.3 719.2L899.8 717.2L900.3 715.3L900.8 713.4L901.3 711.4L901.8 709.5L902.3 707.6L902.9 705.6L903.4 703.7L903.9 701.8L904.4 699.8L904.9 697.9L905.5 696.0L906.0 694.0L906.5 692.1L907.1 690.2L907.6 688.3L908.1 686.3L908.7 684.4L909.2 682.5L909.8 680.6L910.3 678.6L910.9 676.7L911.5 674.8L912.0 672.9L912.6 671.0L913.2 669.0L913.7 667.1L914.3 665.2L914.9 663.3L915.5 661.4L916.1 659.5L916.7 657.6L917.3 655.6L917.9 653.7L918.5 651.8L919.1 649.9L919.8 648.0L920.4 646.1L921.0 644.2L921.7 642.3L922.3 640.4L923.0 638.5L923.7 636.7L924.3 634.8L925.0 632.9L925.7 631.0L926.4 629.1L927.1 627.2L927.8 625.4L928.5 623.5L929.2 621.6L930.0 619.8L930.7 617.9L931.4 616.1L932.2 614.2L933.0 612.4L933.7 610.5L934.5 608.7L935.3 606.8L936.1 605.0L936.9 603.2L937.7 601.4L938.6 599.6L939.4 597.7L940.3 595.9L941.1 594.1L942.0 592.3L942.8 590.5L943.7 588.7L944.6 586.9L945.5 585.1L946.4 583.3L947.3 581.6L948.2 579.8L949.1 578.0L950.0 576.2L950.9 574.4L951.8 572.6L952.7 570.8L953.6 569.0L954.5 567.3L955.4 565.5L956.3 563.7L957.2 561.9L958.1 560.1L959.0 558.3L960.0 556.6L960.9 554.8L961.8 553.0L962.8 551.3L963.7 549.5L964.7 547.7L964.7 547.7"/>
<path class="c" stroke="#f0f" stroke-dasharray="79.6 25.2 14.1 25.2" d="M968.7 540.7L969.7 539.1L970.8 537.4L971.8 535.7L972.9 534.0L974.0 532.3L975.1 530.7L976.2 529.0L977.3 527.4L978.5 525.7L979.6 524.1L980.8 522.5L981.9 520.8L983.1 519.2L984.3 517.6L985.5 516.0L986.6 514.3L987.8 512.7L989.0 511.1L990.2 509.5L991.4 507.9L992.6 506.3L993.8 504.7L995.0 503.1L996.3 501.6L997.5 500.0L998.7 498.4L1000.0 496.9L1001.2 495.3L1002.5 493.7L1003.7 492.2L1005.0 490.6L1006.2 489.0L1007.5 487.5L1008.7 485.9L1010.0 484.3L1011.2 482.8L1012.4 481.2L1013.7 479.7L1015.0 478.1L1016.3 476.6L1017.6 475.1L1019.0 473.6L1020.3 472.2L1021.7 470.7L1023.1 469.3L1024.5 467.8L1025.9 466.4L1027.3 465.0L1028.7 463.6L1030.2 462.2L1031.6 460.8L1033.1 459.4L1034.5 458.1L1036.0 456.7L1037.4 455.3L1038.9 453.9L1040.3 452.5L1041.8 451.1L1043.2 449.8L1044.7 448.4L1046.1 447.0L1047.6 445.6L1049.1 444.3L1050.5 442.9L1052.0 441.6L1053.5 440.3L1055.0 438.9L1056.5 437.6L1058.0 436.3L1059.6 435.1L1061.1 433.8L1062.7 432.6L1064.3 431.3L1065.8 430.1L1067.4 428.9L1069.0 427.7L1070.7 426.5L1072.3 425.4L1073.9 424.2L1075.6 423.1L1077.2 421.9L1078.9 420.8L1080.5 419.7L1082.2 418.5L1083.8 417.4L1085.5 416.3L1087.2 415.2L1088.8 414.1L1090.5 413.0L1092.2 411.9L1093.8 410.7L1095.5 409.6L1097.1 408.5L1098.8 407.4L1100.5 406.3L1102.1 405.2L1103.8 404.1L1105.5 403.0L1107.1 401.9L1108.8 400.8L1110.5 399.7L1112.2 398.6L1113.8 397.5L1115.5 396.5L1117.2 395.4L1118.9 394.4L1120.6 393.3L1122.3 392.3L1124.1 391.2L1125.8 390.2L1127.5 389.2L1129.2 388.2L1130.9 387.2L1132.7 386.2L1134.4 385.2L1136.2 384.2L1137.9 383.2L1139.6 382.2L1141.4 381.2L1143.1 380.3L1144.9 379.3L1146.6 378.3L1148.4 377.4L1150.1 376.4L1151.9 375.4L1153.7 374.5L1155.4 373.6L1157.2 372.6L1159.0 371.7L1160.7 370.8L1162.5 369.9L1164.3 369.0L1166.1 368.1L1167.9 367.2L1169.7 366.3L1171.5 365.4L1173.3 364.5L1175.1 363.6L1176.9 362.8L1177.9 362.3"/>
<path class="c" stroke="#f0f" stroke-dasharray="79.6 25.2 14.1 25.2" d="M1185.1 358.9L1185.9 358.5L1187.7 357.7L1189.6 356.9L1191.4 356.1L1193.2 355.3L1195.1 354.5L1196.9 353.6L1198.7 352.9L1200.6 352.1L1202.4 351.3L1204.2 350.5L1206.1 349.7L1207.9 349.0L1209.8 348.2L1211.6 347.4L1213.5 346.7L1215.3 346.0L1217.2 345.2L1219.1 344.5L1220.9 343.8L1222.8 343.1L1224.7 342.4L1226.6 341.7L1228.4 341.0L1230.3 340.3L1232.2 339.7L1234.1 339.0L1236.0 338.4L1237.9 337.7L1239.8 337.1L1241.7 336.4L1243.6 335.8L1245.5 335.2L1247.4 334.6L1249.3 334.0L1251.2 333.4L1253.1 332.8L1255.0 332.2L1256.9 331.6L1258.9 331.1L1260.8 330.5L1262.7 330.0L1264.6 329.4L1266.5 328.9L1268.5 328.3L1270.4 327.8L1272.3 327.3L1274.3 326.8L1276.2 326.2L1278.1 325.7L1280.1 325.2L1282.0 324.8L1284.0 324.3L1285.9 323.8L1287.8 323.3L1289.8 322.9L1291.7 322.4L1293.7 321.9L1295.6 321.5L1297.6 321.0L1299.5 320.6L1301.5 320.2L1303.4 319.8L1305.4 319.3L1307.4 318.9L1309.3 318.5L1311.3 318.1L1313.2 317.7L1314.5 317.5"/>
<path class="c" stroke="#f0f" stroke-dasharray="79.6 25.2 14.1 25.2" d="M1322.4 316.0L1323.1 315.9L1325.0 315.6L1327.0 315.2L1329.0 314.9L1331.0 314.6L1332.9 314.3L1334.9 314.0L1336.9 313.7L1338.9 313.4L1340.8 313.1L1342.8 312.8L1344.8 312.5L1346.8 312.3L1348.8 312.0L1350.8 311.8L1352.7 311.6L1354.7 311.3L1356.7 311.1L1358.7 310.9L1360.7 310.7L1362.7 310.5L1364.7 310.3L1366.7 310.1L1368.7 310.0L1370.7 309.8L1372.7 309.6L1374.7 309.5L1376.6 309.3L1378.6 309.2L1380.6 309.1L1382.6 308.9L1384.6 308.8L1386.6 308.7L1388.6 308.6L1390.6 308.5L1392.6 308.4L1394.6 308.3L1396.6 308.2L1398.6 308.1L1400.6 308.0L1402.6 307.9L1404.6 307.8L1406.6 307.7L1408.6 307.7L1410.6 307.6L1412.6 307.6L1414.6 307.5L1416.6 307.5L1418.6 307.4L1420.6 307.4L1422.6 307.4L1424.6 307.3L1426.6 307.3L1428.6 307.3L1430.6 307.3L1432.6 307.2L1434.6 307.2L1436.6 307.2L1438.6 307.2L1440.6 307.2L1442.6 307.2L1444.6 307.2L1446.6 307.2L1448.6 307.2L1450.6 307.1L1452.6 307.1L1454.6 307.1L1456.6 307.1L1458.1 307.1"/>
<path class="c" stroke="#f0f" stroke-dasharray="79.6 25.2 14.1 25.2" d="M1466.1 307.2L1466.6 307.2L1468.6 307.3L1470.6 307.3L1472.6 307.3L1474.6 307.4L1476.6 307.4L1478.6 307.5L1480.6 307.6L1482.6 307.6L1484.6 307.7L1486.6 307.8L1488.6 307.8L1490.6 307.9L1492.6 308.0L1494.6 308.1L1496.6 308.2L1498.6 308.3L1500.6 308.4L1502.6 308.5L1504.6 308.6L1506.6 308.7L1508.6 308.8L1510.6 308.9L1512.6 309.0L1514.6 309.2L1516.5 309.3L1518.5 309.5L1520.5 309.6L1522.5 309.8L1524.5 310.0L1526.5 310.1L1528.5 310.3L1530.5 310.5L1532.5 310.7L1534.5 310.9L1536.5 311.1L1538.5 311.3L1540.4 311.6L1542.4 311.8L1544.4 312.0L1546.4 312.2L1548.4 312.5L1550.4 312.7L1552.4 313.0L1554.3 313.3L1556.3 313.5L1558.3 313.8L1560.3 314.1L1562.3 314.4L1564.2 314.7L1566.2 315.0L1568.2 315.3L1570.2 315.6L1572.1 316.0L1574.1 316.3L1576.1 316.6L1578.1 317.0L1580.0 317.3L1582.0 317.7L1583.9 318.1L1585.9 318.5L1587.9 318.9L1589.8 319.3L1591.8 319.7L1593.7 320.1L1595.7 320.5L1597.7 321.0L1599.6 321.4L1601.6 321.9L1602.0 322.0"/>
<path class="c" stroke="#f0f" stroke-dasharray="79.6 25.2 14.1 25.2" d="M1609.8 323.9L1611.3 324.2L1613.2 324.7L1615.1 325.2L1617.1 325.7L1619.0 326.3L1620.9 326.8L1622.9 327.3L1624.8 327.9L1626.7 328.4L1628.6 329.0L1630.5 329.5L1632.5 330.1L1634.4 330.7L1636.3 331.3L1638.2 331.9L1640.1 332.5L1642.0 333.2L1643.9 333.8L1645.8 334.4L1647.7 335.1L1649.6 335.8L1651.4 336.4L1653.3 337.1L1655.2 337.8L1657.1 338.5L1658.9 339.2L1660.8 339.9L1662.7 340.7L1664.5 341.4L1666.4 342.2L1668.2 342.9L1670.1 343.7L1671.9 344.4L1673.8 345.2L1675.6 346.0L1677.5 346.8L1679.3 347.6L1681.1 348.4L1682.9 349.2L1684.8 350.1L1686.6 350.9L1688.4 351.7L1690.2 352.6L1692.0 353.5L1693.8 354.3L1695.6 355.2L1697.4 356.1L1699.2 357.0L1701.0 357.9L1702.7 358.8L1704.5 359.7L1706.3 360.7L1708.1 361.6L1709.8 362.6L1711.6 363.5L1713.3 364.5L1715.1 365.4L1716.8 366.4L1718.6 367.4L1720.3 368.4L1722.0 369.4L1723.8 370.4L1725.5 371.4L1727.2 372.4L1728.9 373.5L1730.6 374.5L1732.3 375.6L1733.3 376.1"/>
<path class="c" stroke="#f0f" stroke-dasharray="79.6 25.2 14.1 25.2" d="M1740.0 380.4L1740.8 380.9L1742.5 382.0L1744.1 383.1L1745.8 384.2L1747.5 385.3L1749.1 386.5L1750.8 387.6L1752.4 388.7L1754.0 389.9L1755.7 391.0L1757.3 392.2L1758.9 393.3L1760.6 394.5L1762.2 395.7L1763.8 396.9L1765.4 398.1L1767.0 399.3L1768.6 400.5L1770.2 401.7L1771.8 402.9L1773.3 404.1L1774.9 405.4L1776.5 406.6L1778.1 407.9L1779.6 409.1L1780.0 409.4"/>
</g>
<rect x="1149" y="994" width="588" height="269.5" fill="#fff"/>
<g shape-rendering="crispEdges">
<path class="t" d="M517.5 1282V1264M517.5 57V78"/>
<path class="t" d="M770.5 1282V1264M770.5 57V78"/>
<path class="t" d="M1022.5 1282V1264M1022.5 57V78"/>
<path class="t" d="M1274.5 1282V1264M1274.5 57V78"/>
<path class="t" d="M1527.5 1282V1264M1527.5 57V78"/>
<path class="t" d="M265 232.5H284M1780 232.5H1762"/>
<path class="t" d="M265 406.5H284M1780 406.5H1762"/>
<path class="t" d="M265 582.5H284M1780 582.5H1762"/>
<path class="t" d="M265 757.5H284M1780 757.5H1762"/>
<path class="t" d="M265 932.5H284M1780 932.5H1762"/>
<path class="t" d="M265 1107.5H284M1780 1107.5H1762"/>
<path d="M263 55H1782V1284H263ZM267 59V1281H1778V59Z" fill="#000" fill-rule="evenodd"/>
</g>
<g shape-rendering="crispEdges">
<path class="c" stroke="#f00" d="M1517 1027H1698"/>
<path class="c" stroke="#00f" stroke-dasharray="27.2 38.3" d="M1517 1095H1698"/>
<path class="c" stroke="#0f0" stroke-dasharray="14 18.8" style="stroke-width:7" d="M1517 1163.5H1698"/>
<path class="c" stroke="#f0f" stroke-dasharray="79.6 25.2 14.1 25.2" d="M1517 1231H1698"/>
</g>
<text x="1475" y="1049.5" text-anchor="end">gprMax</text>
<text x="1475" y="1117.5" text-anchor="end">openEMS</text>
<text x="1475" y="1186.0" text-anchor="end">Commercial 1</text>
<text x="1475" y="1253.5" text-anchor="end">Commercial 2</text>
<text transform="translate(273.0 1373.5) scale(1 1.045)" text-anchor="middle">0</text>
<text transform="translate(525.5 1373.5) scale(1 1.045)" text-anchor="middle">0.5</text>
<text transform="translate(778.0 1373.5) scale(1 1.045)" text-anchor="middle">1</text>
<text transform="translate(1030.5 1373.5) scale(1 1.045)" text-anchor="middle">1.5</text>
<text transform="translate(1283.0 1373.5) scale(1 1.045)" text-anchor="middle">2</text>
<text transform="translate(1535.5 1373.5) scale(1 1.045)" text-anchor="middle">2.5</text>
<text transform="translate(1788.0 1373.5) scale(1 1.045)" text-anchor="middle">3</text>
<text transform="translate(225 80.5) scale(1 1.045)" text-anchor="end">0</text>
<text transform="translate(223 256.0) scale(1 1.045)" text-anchor="end"><tspan dy="5.2" stroke="#000" stroke-width="0.9">−</tspan><tspan dy="-5.2" dx="-2">1</tspan></text>
<text transform="translate(225 430.0) scale(1 1.045)" text-anchor="end"><tspan dy="5.2" stroke="#000" stroke-width="0.9">−</tspan><tspan dy="-5.2">2</tspan></text>
<text transform="translate(225 606.0) scale(1 1.045)" text-anchor="end"><tspan dy="5.2" stroke="#000" stroke-width="0.9">−</tspan><tspan dy="-5.2">3</tspan></text>
<text transform="translate(225 781.0) scale(1 1.045)" text-anchor="end"><tspan dy="5.2" stroke="#000" stroke-width="0.9">−</tspan><tspan dy="-5.2">4</tspan></text>
<text transform="translate(225 956.0) scale(1 1.045)" text-anchor="end"><tspan dy="5.2" stroke="#000" stroke-width="0.9">−</tspan><tspan dy="-5.2">5</tspan></text>
<text transform="translate(225 1131.0) scale(1 1.045)" text-anchor="end"><tspan dy="5.2" stroke="#000" stroke-width="0.9">−</tspan><tspan dy="-5.2">6</tspan></text>
<text transform="translate(225 1306.0) scale(1 1.045)" text-anchor="end"><tspan dy="5.2" stroke="#000" stroke-width="0.9">−</tspan><tspan dy="-5.2">7</tspan></text>
<text x="1021" y="1475.8" text-anchor="middle">Frequency [GHz]</text>
<g transform="translate(92 801) rotate(-90)"><text transform="translate(-2.8 -10.9) scale(1.4 0.762)">|</text><text x="13.6" y="0">S<tspan dy="20.4" font-size="54.4px">11</tspan></text><text transform="translate(103.5 -10.9) scale(1.4 0.762)">|</text><text x="119.4" y="0" style="white-space:pre"> [dB]</text></g>
</svg></body></html>
